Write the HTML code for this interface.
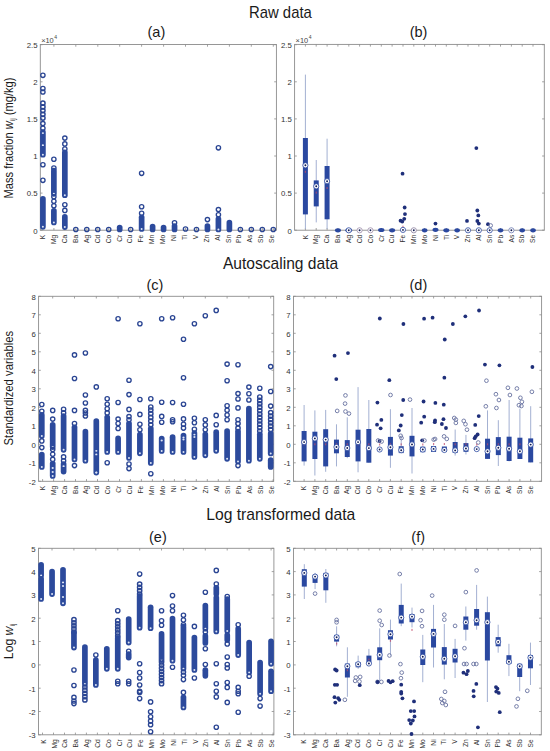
<!DOCTYPE html><html><head><meta charset="utf-8"><style>html,body{margin:0;padding:0;background:#fff;}svg{display:block;}text{font-family:"Liberation Sans",sans-serif;}.tk{font-size:7.8px;fill:#333;}.xl{font-size:6.6px;fill:#2e2e2e;}.ti{font-size:16.6px;fill:#1a1a1a;}.pl{font-size:14.5px;fill:#1a1a1a;}.yl{font-size:12.2px;fill:#1a1a1a;}</style></head><body>
<svg width="550" height="751" viewBox="0 0 550 751">
<rect width="550" height="751" fill="#fff"/>
<text class="ti" x="249" y="18.2" textLength="62.8" lengthAdjust="spacingAndGlyphs">Raw data</text>
<text class="ti" x="222.9" y="269.2" textLength="115.3" lengthAdjust="spacingAndGlyphs">Autoscaling data</text>
<text class="ti" x="206.2" y="520.2" textLength="149.1" lengthAdjust="spacingAndGlyphs">Log transformed data</text>
<text class="pl" x="156.4" y="37.0" text-anchor="middle">(a)</text>
<text class="pl" x="418.5" y="37.3" text-anchor="middle">(b)</text>
<text class="pl" x="155.0" y="290.2" text-anchor="middle">(c)</text>
<text class="pl" x="418.4" y="290.2" text-anchor="middle">(d)</text>
<text class="pl" x="157.9" y="541.7" text-anchor="middle">(e)</text>
<text class="pl" x="418.2" y="541.7" text-anchor="middle">(f)</text>
<text class="yl" text-anchor="middle" textLength="121" lengthAdjust="spacingAndGlyphs" transform="translate(12.8,138) rotate(-90)">Mass fraction <tspan font-style="italic">w</tspan><tspan font-size="7" dy="2.2">ij</tspan><tspan dy="-2.2"> (mg/kg)</tspan></text>
<text class="yl" text-anchor="middle" textLength="114.5" lengthAdjust="spacingAndGlyphs" transform="translate(12.9,388.2) rotate(-90)">Standardized variables</text>
<text class="yl" text-anchor="middle" transform="translate(12.6,641.3) rotate(-90)">Log <tspan font-style="italic">w</tspan><tspan font-size="7" dy="2.2">ij</tspan></text>
<text x="41.2" y="42.8" style="font-size:7.4px;fill:#444">×10<tspan dx="0.6" dy="-3.6" font-size="5px">4</tspan></text>
<text x="295.6" y="42.8" style="font-size:7.4px;fill:#444">×10<tspan dx="0.6" dy="-3.6" font-size="5px">4</tspan></text>
<rect x="40.3" y="44.5" width="236.1" height="185.7" fill="none" stroke="#8c8c8c" stroke-width="0.9"/>
<path d="M40.3,230.2h2.2M276.4,230.2h-2.2M40.3,193.1h2.2M276.4,193.1h-2.2M40.3,156.0h2.2M276.4,156.0h-2.2M40.3,118.9h2.2M276.4,118.9h-2.2M40.3,81.8h2.2M276.4,81.8h-2.2M40.3,44.7h2.2M276.4,44.7h-2.2M42.9,230.2v-2.2M53.9,230.2v-2.2M53.9,44.5v2.2M64.8,230.2v-2.2M75.8,230.2v-2.2M75.8,44.5v2.2M86.8,230.2v-2.2M97.8,230.2v-2.2M97.8,44.5v2.2M108.7,230.2v-2.2M119.7,230.2v-2.2M119.7,44.5v2.2M130.7,230.2v-2.2M141.6,230.2v-2.2M141.6,44.5v2.2M152.6,230.2v-2.2M163.6,230.2v-2.2M163.6,44.5v2.2M174.5,230.2v-2.2M185.5,230.2v-2.2M185.5,44.5v2.2M196.5,230.2v-2.2M207.5,230.2v-2.2M207.5,44.5v2.2M218.4,230.2v-2.2M229.4,230.2v-2.2M229.4,44.5v2.2M240.4,230.2v-2.2M251.3,230.2v-2.2M251.3,44.5v2.2M262.3,230.2v-2.2M273.3,230.2v-2.2M273.3,44.5v2.2" stroke="#8c8c8c" stroke-width="0.8" fill="none"/>
<text x="37.5" y="233.5" class="tk" text-anchor="end">0</text>
<text x="37.5" y="196.4" class="tk" text-anchor="end">0.5</text>
<text x="37.5" y="159.3" class="tk" text-anchor="end">1</text>
<text x="37.5" y="122.2" class="tk" text-anchor="end">1.5</text>
<text x="37.5" y="85.1" class="tk" text-anchor="end">2</text>
<text x="37.5" y="48.0" class="tk" text-anchor="end">2.5</text>
<text class="xl" text-anchor="end" transform="translate(45.2,234.8) rotate(-90)">K</text>
<text class="xl" text-anchor="end" transform="translate(56.1,234.8) rotate(-90)">Mg</text>
<text class="xl" text-anchor="end" transform="translate(67.0,234.8) rotate(-90)">Ca</text>
<text class="xl" text-anchor="end" transform="translate(77.9,234.8) rotate(-90)">Ba</text>
<text class="xl" text-anchor="end" transform="translate(88.8,234.8) rotate(-90)">Ag</text>
<text class="xl" text-anchor="end" transform="translate(99.7,234.8) rotate(-90)">Cd</text>
<text class="xl" text-anchor="end" transform="translate(110.6,234.8) rotate(-90)">Co</text>
<text class="xl" text-anchor="end" transform="translate(121.5,234.8) rotate(-90)">Cr</text>
<text class="xl" text-anchor="end" transform="translate(132.4,234.8) rotate(-90)">Cu</text>
<text class="xl" text-anchor="end" transform="translate(143.3,234.8) rotate(-90)">Fe</text>
<text class="xl" text-anchor="end" transform="translate(154.2,234.8) rotate(-90)">Mn</text>
<text class="xl" text-anchor="end" transform="translate(165.1,234.8) rotate(-90)">Mo</text>
<text class="xl" text-anchor="end" transform="translate(176.0,234.8) rotate(-90)">Ni</text>
<text class="xl" text-anchor="end" transform="translate(186.9,234.8) rotate(-90)">Ti</text>
<text class="xl" text-anchor="end" transform="translate(197.8,234.8) rotate(-90)">V</text>
<text class="xl" text-anchor="end" transform="translate(208.7,234.8) rotate(-90)">Zn</text>
<text class="xl" text-anchor="end" transform="translate(219.6,234.8) rotate(-90)">Al</text>
<text class="xl" text-anchor="end" transform="translate(230.5,234.8) rotate(-90)">Sn</text>
<text class="xl" text-anchor="end" transform="translate(241.4,234.8) rotate(-90)">Pb</text>
<text class="xl" text-anchor="end" transform="translate(252.3,234.8) rotate(-90)">As</text>
<text class="xl" text-anchor="end" transform="translate(263.2,234.8) rotate(-90)">Sb</text>
<text class="xl" text-anchor="end" transform="translate(274.1,234.8) rotate(-90)">Se</text>
<rect x="294.6" y="44.4" width="249.7" height="185.8" fill="none" stroke="#8c8c8c" stroke-width="0.9"/>
<path d="M294.6,230.2h2.2M544.3,230.2h-2.2M294.6,193.1h2.2M544.3,193.1h-2.2M294.6,156.0h2.2M544.3,156.0h-2.2M294.6,118.9h2.2M544.3,118.9h-2.2M294.6,81.8h2.2M544.3,81.8h-2.2M294.6,44.7h2.2M544.3,44.7h-2.2M305.4,230.2v-2.2M305.4,44.4v2.2M316.2,230.2v-2.2M316.2,44.4v2.2M327.1,230.2v-2.2M327.1,44.4v2.2M337.9,230.2v-2.2M337.9,44.4v2.2M348.8,230.2v-2.2M348.8,44.4v2.2M359.6,230.2v-2.2M359.6,44.4v2.2M370.4,230.2v-2.2M370.4,44.4v2.2M381.3,230.2v-2.2M381.3,44.4v2.2M392.1,230.2v-2.2M392.1,44.4v2.2M403.0,230.2v-2.2M403.0,44.4v2.2M413.8,230.2v-2.2M413.8,44.4v2.2M424.6,230.2v-2.2M424.6,44.4v2.2M435.5,230.2v-2.2M435.5,44.4v2.2M446.3,230.2v-2.2M446.3,44.4v2.2M457.2,230.2v-2.2M457.2,44.4v2.2M468.0,230.2v-2.2M468.0,44.4v2.2M478.8,230.2v-2.2M478.8,44.4v2.2M489.7,230.2v-2.2M489.7,44.4v2.2M500.5,230.2v-2.2M500.5,44.4v2.2M511.4,230.2v-2.2M511.4,44.4v2.2M522.2,230.2v-2.2M522.2,44.4v2.2M533.0,230.2v-2.2M533.0,44.4v2.2" stroke="#8c8c8c" stroke-width="0.8" fill="none"/>
<text x="291.8" y="233.5" class="tk" text-anchor="end">0</text>
<text x="291.8" y="196.4" class="tk" text-anchor="end">0.5</text>
<text x="291.8" y="159.3" class="tk" text-anchor="end">1</text>
<text x="291.8" y="122.2" class="tk" text-anchor="end">1.5</text>
<text x="291.8" y="85.1" class="tk" text-anchor="end">2</text>
<text x="291.8" y="48.0" class="tk" text-anchor="end">2.5</text>
<text class="xl" text-anchor="end" transform="translate(307.6,234.8) rotate(-90)">K</text>
<text class="xl" text-anchor="end" transform="translate(318.4,234.8) rotate(-90)">Mg</text>
<text class="xl" text-anchor="end" transform="translate(329.3,234.8) rotate(-90)">Ca</text>
<text class="xl" text-anchor="end" transform="translate(340.1,234.8) rotate(-90)">Ba</text>
<text class="xl" text-anchor="end" transform="translate(351.0,234.8) rotate(-90)">Ag</text>
<text class="xl" text-anchor="end" transform="translate(361.8,234.8) rotate(-90)">Cd</text>
<text class="xl" text-anchor="end" transform="translate(372.6,234.8) rotate(-90)">Co</text>
<text class="xl" text-anchor="end" transform="translate(383.5,234.8) rotate(-90)">Cr</text>
<text class="xl" text-anchor="end" transform="translate(394.3,234.8) rotate(-90)">Cu</text>
<text class="xl" text-anchor="end" transform="translate(405.2,234.8) rotate(-90)">Fe</text>
<text class="xl" text-anchor="end" transform="translate(416.0,234.8) rotate(-90)">Mn</text>
<text class="xl" text-anchor="end" transform="translate(426.8,234.8) rotate(-90)">Mo</text>
<text class="xl" text-anchor="end" transform="translate(437.7,234.8) rotate(-90)">Ni</text>
<text class="xl" text-anchor="end" transform="translate(448.5,234.8) rotate(-90)">Ti</text>
<text class="xl" text-anchor="end" transform="translate(459.4,234.8) rotate(-90)">V</text>
<text class="xl" text-anchor="end" transform="translate(470.2,234.8) rotate(-90)">Zn</text>
<text class="xl" text-anchor="end" transform="translate(481.0,234.8) rotate(-90)">Al</text>
<text class="xl" text-anchor="end" transform="translate(491.9,234.8) rotate(-90)">Sn</text>
<text class="xl" text-anchor="end" transform="translate(502.7,234.8) rotate(-90)">Pb</text>
<text class="xl" text-anchor="end" transform="translate(513.6,234.8) rotate(-90)">As</text>
<text class="xl" text-anchor="end" transform="translate(524.4,234.8) rotate(-90)">Sb</text>
<text class="xl" text-anchor="end" transform="translate(535.2,234.8) rotate(-90)">Se</text>
<rect x="38.6" y="296.3" width="235.1" height="185.0" fill="none" stroke="#8c8c8c" stroke-width="0.9"/>
<path d="M38.6,481.3h2.2M273.7,481.3h-2.2M38.6,462.8h2.2M273.7,462.8h-2.2M38.6,444.3h2.2M273.7,444.3h-2.2M38.6,425.8h2.2M273.7,425.8h-2.2M38.6,407.3h2.2M273.7,407.3h-2.2M38.6,388.8h2.2M273.7,388.8h-2.2M38.6,370.3h2.2M273.7,370.3h-2.2M38.6,351.8h2.2M273.7,351.8h-2.2M38.6,333.3h2.2M273.7,333.3h-2.2M38.6,314.8h2.2M273.7,314.8h-2.2M38.6,296.3h2.2M273.7,296.3h-2.2M42.6,481.3v-2.2M53.6,481.3v-2.2M52.7,296.3v2.2M64.6,481.3v-2.2M75.5,481.3v-2.2M74.5,296.3v2.2M86.5,481.3v-2.2M97.5,481.3v-2.2M96.3,296.3v2.2M108.5,481.3v-2.2M119.5,481.3v-2.2M118.1,296.3v2.2M130.4,481.3v-2.2M141.4,481.3v-2.2M139.9,296.3v2.2M152.4,481.3v-2.2M163.4,481.3v-2.2M161.7,296.3v2.2M174.4,481.3v-2.2M185.3,481.3v-2.2M183.5,296.3v2.2M196.3,481.3v-2.2M207.3,481.3v-2.2M205.3,296.3v2.2M218.3,481.3v-2.2M229.3,481.3v-2.2M227.1,296.3v2.2M240.2,481.3v-2.2M251.2,481.3v-2.2M248.9,296.3v2.2M262.2,481.3v-2.2M273.2,481.3v-2.2M270.7,296.3v2.2" stroke="#8c8c8c" stroke-width="0.8" fill="none"/>
<text x="35.8" y="484.6" class="tk" text-anchor="end">-2</text>
<text x="35.8" y="466.1" class="tk" text-anchor="end">-1</text>
<text x="35.8" y="447.6" class="tk" text-anchor="end">0</text>
<text x="35.8" y="429.1" class="tk" text-anchor="end">1</text>
<text x="35.8" y="410.6" class="tk" text-anchor="end">2</text>
<text x="35.8" y="392.1" class="tk" text-anchor="end">3</text>
<text x="35.8" y="373.6" class="tk" text-anchor="end">4</text>
<text x="35.8" y="355.1" class="tk" text-anchor="end">5</text>
<text x="35.8" y="336.6" class="tk" text-anchor="end">6</text>
<text x="35.8" y="318.1" class="tk" text-anchor="end">7</text>
<text x="35.8" y="299.6" class="tk" text-anchor="end">8</text>
<text class="xl" text-anchor="end" transform="translate(44.9,485.9) rotate(-90)">K</text>
<text class="xl" text-anchor="end" transform="translate(55.8,485.9) rotate(-90)">Mg</text>
<text class="xl" text-anchor="end" transform="translate(66.7,485.9) rotate(-90)">Ca</text>
<text class="xl" text-anchor="end" transform="translate(77.6,485.9) rotate(-90)">Ba</text>
<text class="xl" text-anchor="end" transform="translate(88.4,485.9) rotate(-90)">Ag</text>
<text class="xl" text-anchor="end" transform="translate(99.3,485.9) rotate(-90)">Cd</text>
<text class="xl" text-anchor="end" transform="translate(110.2,485.9) rotate(-90)">Co</text>
<text class="xl" text-anchor="end" transform="translate(121.1,485.9) rotate(-90)">Cr</text>
<text class="xl" text-anchor="end" transform="translate(132.0,485.9) rotate(-90)">Cu</text>
<text class="xl" text-anchor="end" transform="translate(142.9,485.9) rotate(-90)">Fe</text>
<text class="xl" text-anchor="end" transform="translate(153.8,485.9) rotate(-90)">Mn</text>
<text class="xl" text-anchor="end" transform="translate(164.6,485.9) rotate(-90)">Mo</text>
<text class="xl" text-anchor="end" transform="translate(175.5,485.9) rotate(-90)">Ni</text>
<text class="xl" text-anchor="end" transform="translate(186.4,485.9) rotate(-90)">Ti</text>
<text class="xl" text-anchor="end" transform="translate(197.3,485.9) rotate(-90)">V</text>
<text class="xl" text-anchor="end" transform="translate(208.2,485.9) rotate(-90)">Zn</text>
<text class="xl" text-anchor="end" transform="translate(219.1,485.9) rotate(-90)">Al</text>
<text class="xl" text-anchor="end" transform="translate(230.0,485.9) rotate(-90)">Sn</text>
<text class="xl" text-anchor="end" transform="translate(240.8,485.9) rotate(-90)">Pb</text>
<text class="xl" text-anchor="end" transform="translate(251.7,485.9) rotate(-90)">As</text>
<text class="xl" text-anchor="end" transform="translate(262.6,485.9) rotate(-90)">Sb</text>
<text class="xl" text-anchor="end" transform="translate(273.5,485.9) rotate(-90)">Se</text>
<rect x="293.5" y="296.3" width="248.1" height="185.0" fill="none" stroke="#8c8c8c" stroke-width="0.9"/>
<path d="M293.5,481.3h2.2M541.6,481.3h-2.2M293.5,462.8h2.2M541.6,462.8h-2.2M293.5,444.3h2.2M541.6,444.3h-2.2M293.5,425.8h2.2M541.6,425.8h-2.2M293.5,407.3h2.2M541.6,407.3h-2.2M293.5,388.8h2.2M541.6,388.8h-2.2M293.5,370.3h2.2M541.6,370.3h-2.2M293.5,351.8h2.2M541.6,351.8h-2.2M293.5,333.3h2.2M541.6,333.3h-2.2M293.5,314.8h2.2M541.6,314.8h-2.2M293.5,296.3h2.2M541.6,296.3h-2.2M304.1,481.3v-2.2M304.1,296.3v2.2M314.9,481.3v-2.2M314.9,296.3v2.2M325.7,481.3v-2.2M325.7,296.3v2.2M336.5,481.3v-2.2M336.5,296.3v2.2M347.3,481.3v-2.2M347.3,296.3v2.2M358.1,481.3v-2.2M358.1,296.3v2.2M368.8,481.3v-2.2M368.8,296.3v2.2M379.6,481.3v-2.2M379.6,296.3v2.2M390.4,481.3v-2.2M390.4,296.3v2.2M401.2,481.3v-2.2M401.2,296.3v2.2M412.0,481.3v-2.2M412.0,296.3v2.2M422.8,481.3v-2.2M422.8,296.3v2.2M433.6,481.3v-2.2M433.6,296.3v2.2M444.4,481.3v-2.2M444.4,296.3v2.2M455.2,481.3v-2.2M455.2,296.3v2.2M466.0,481.3v-2.2M466.0,296.3v2.2M476.7,481.3v-2.2M476.7,296.3v2.2M487.5,481.3v-2.2M487.5,296.3v2.2M498.3,481.3v-2.2M498.3,296.3v2.2M509.1,481.3v-2.2M509.1,296.3v2.2M519.9,481.3v-2.2M519.9,296.3v2.2M530.7,481.3v-2.2M530.7,296.3v2.2" stroke="#8c8c8c" stroke-width="0.8" fill="none"/>
<text x="290.7" y="484.6" class="tk" text-anchor="end">-2</text>
<text x="290.7" y="466.1" class="tk" text-anchor="end">-1</text>
<text x="290.7" y="447.6" class="tk" text-anchor="end">0</text>
<text x="290.7" y="429.1" class="tk" text-anchor="end">1</text>
<text x="290.7" y="410.6" class="tk" text-anchor="end">2</text>
<text x="290.7" y="392.1" class="tk" text-anchor="end">3</text>
<text x="290.7" y="373.6" class="tk" text-anchor="end">4</text>
<text x="290.7" y="355.1" class="tk" text-anchor="end">5</text>
<text x="290.7" y="336.6" class="tk" text-anchor="end">6</text>
<text x="290.7" y="318.1" class="tk" text-anchor="end">7</text>
<text x="290.7" y="299.6" class="tk" text-anchor="end">8</text>
<text class="xl" text-anchor="end" transform="translate(306.2,485.9) rotate(-90)">K</text>
<text class="xl" text-anchor="end" transform="translate(317.0,485.9) rotate(-90)">Mg</text>
<text class="xl" text-anchor="end" transform="translate(327.8,485.9) rotate(-90)">Ca</text>
<text class="xl" text-anchor="end" transform="translate(338.6,485.9) rotate(-90)">Ba</text>
<text class="xl" text-anchor="end" transform="translate(349.4,485.9) rotate(-90)">Ag</text>
<text class="xl" text-anchor="end" transform="translate(360.2,485.9) rotate(-90)">Cd</text>
<text class="xl" text-anchor="end" transform="translate(370.9,485.9) rotate(-90)">Co</text>
<text class="xl" text-anchor="end" transform="translate(381.7,485.9) rotate(-90)">Cr</text>
<text class="xl" text-anchor="end" transform="translate(392.5,485.9) rotate(-90)">Cu</text>
<text class="xl" text-anchor="end" transform="translate(403.3,485.9) rotate(-90)">Fe</text>
<text class="xl" text-anchor="end" transform="translate(414.1,485.9) rotate(-90)">Mn</text>
<text class="xl" text-anchor="end" transform="translate(424.9,485.9) rotate(-90)">Mo</text>
<text class="xl" text-anchor="end" transform="translate(435.7,485.9) rotate(-90)">Ni</text>
<text class="xl" text-anchor="end" transform="translate(446.5,485.9) rotate(-90)">Ti</text>
<text class="xl" text-anchor="end" transform="translate(457.3,485.9) rotate(-90)">V</text>
<text class="xl" text-anchor="end" transform="translate(468.1,485.9) rotate(-90)">Zn</text>
<text class="xl" text-anchor="end" transform="translate(478.8,485.9) rotate(-90)">Al</text>
<text class="xl" text-anchor="end" transform="translate(489.6,485.9) rotate(-90)">Sn</text>
<text class="xl" text-anchor="end" transform="translate(500.4,485.9) rotate(-90)">Pb</text>
<text class="xl" text-anchor="end" transform="translate(511.2,485.9) rotate(-90)">As</text>
<text class="xl" text-anchor="end" transform="translate(522.0,485.9) rotate(-90)">Sb</text>
<text class="xl" text-anchor="end" transform="translate(532.8,485.9) rotate(-90)">Se</text>
<rect x="38.5" y="548.3" width="235.4" height="186.5" fill="none" stroke="#8c8c8c" stroke-width="0.9"/>
<path d="M38.5,734.8h2.2M273.9,734.8h-2.2M38.5,711.5h2.2M273.9,711.5h-2.2M38.5,688.2h2.2M273.9,688.2h-2.2M38.5,664.9h2.2M273.9,664.9h-2.2M38.5,641.5h2.2M273.9,641.5h-2.2M38.5,618.2h2.2M273.9,618.2h-2.2M38.5,594.9h2.2M273.9,594.9h-2.2M38.5,571.6h2.2M273.9,571.6h-2.2M38.5,548.3h2.2M273.9,548.3h-2.2M42.5,734.8v-2.2M53.5,734.8v-2.2M52.0,548.3v2.2M64.5,734.8v-2.2M75.4,734.8v-2.2M73.9,548.3v2.2M86.4,734.8v-2.2M97.4,734.8v-2.2M95.8,548.3v2.2M108.4,734.8v-2.2M119.4,734.8v-2.2M117.8,548.3v2.2M130.3,734.8v-2.2M141.3,734.8v-2.2M139.7,548.3v2.2M152.3,734.8v-2.2M163.3,734.8v-2.2M161.5,548.3v2.2M174.3,734.8v-2.2M185.2,734.8v-2.2M183.4,548.3v2.2M196.2,734.8v-2.2M207.2,734.8v-2.2M205.3,548.3v2.2M218.2,734.8v-2.2M229.2,734.8v-2.2M227.2,548.3v2.2M240.1,734.8v-2.2M251.1,734.8v-2.2M249.1,548.3v2.2M262.1,734.8v-2.2M273.1,734.8v-2.2M271.1,548.3v2.2" stroke="#8c8c8c" stroke-width="0.8" fill="none"/>
<text x="35.7" y="738.1" class="tk" text-anchor="end">-3</text>
<text x="35.7" y="714.8" class="tk" text-anchor="end">-2</text>
<text x="35.7" y="691.5" class="tk" text-anchor="end">-1</text>
<text x="35.7" y="668.2" class="tk" text-anchor="end">0</text>
<text x="35.7" y="644.8" class="tk" text-anchor="end">1</text>
<text x="35.7" y="621.5" class="tk" text-anchor="end">2</text>
<text x="35.7" y="598.2" class="tk" text-anchor="end">3</text>
<text x="35.7" y="574.9" class="tk" text-anchor="end">4</text>
<text x="35.7" y="551.6" class="tk" text-anchor="end">5</text>
<text class="xl" text-anchor="end" transform="translate(45.6,739.4) rotate(-90)">K</text>
<text class="xl" text-anchor="end" transform="translate(56.5,739.4) rotate(-90)">Mg</text>
<text class="xl" text-anchor="end" transform="translate(67.3,739.4) rotate(-90)">Ca</text>
<text class="xl" text-anchor="end" transform="translate(78.1,739.4) rotate(-90)">Ba</text>
<text class="xl" text-anchor="end" transform="translate(89.0,739.4) rotate(-90)">Ag</text>
<text class="xl" text-anchor="end" transform="translate(99.8,739.4) rotate(-90)">Cd</text>
<text class="xl" text-anchor="end" transform="translate(110.7,739.4) rotate(-90)">Co</text>
<text class="xl" text-anchor="end" transform="translate(121.5,739.4) rotate(-90)">Cr</text>
<text class="xl" text-anchor="end" transform="translate(132.4,739.4) rotate(-90)">Cu</text>
<text class="xl" text-anchor="end" transform="translate(143.2,739.4) rotate(-90)">Fe</text>
<text class="xl" text-anchor="end" transform="translate(154.1,739.4) rotate(-90)">Mn</text>
<text class="xl" text-anchor="end" transform="translate(164.9,739.4) rotate(-90)">Mo</text>
<text class="xl" text-anchor="end" transform="translate(175.8,739.4) rotate(-90)">Ni</text>
<text class="xl" text-anchor="end" transform="translate(186.6,739.4) rotate(-90)">Ti</text>
<text class="xl" text-anchor="end" transform="translate(197.5,739.4) rotate(-90)">V</text>
<text class="xl" text-anchor="end" transform="translate(208.3,739.4) rotate(-90)">Zn</text>
<text class="xl" text-anchor="end" transform="translate(219.2,739.4) rotate(-90)">Al</text>
<text class="xl" text-anchor="end" transform="translate(230.0,739.4) rotate(-90)">Sn</text>
<text class="xl" text-anchor="end" transform="translate(240.9,739.4) rotate(-90)">Pb</text>
<text class="xl" text-anchor="end" transform="translate(251.8,739.4) rotate(-90)">As</text>
<text class="xl" text-anchor="end" transform="translate(262.6,739.4) rotate(-90)">Sb</text>
<text class="xl" text-anchor="end" transform="translate(273.5,739.4) rotate(-90)">Se</text>
<rect x="293.5" y="548.3" width="247.8" height="186.5" fill="none" stroke="#8c8c8c" stroke-width="0.9"/>
<path d="M293.5,734.8h2.2M541.3,734.8h-2.2M293.5,711.5h2.2M541.3,711.5h-2.2M293.5,688.2h2.2M541.3,688.2h-2.2M293.5,664.9h2.2M541.3,664.9h-2.2M293.5,641.5h2.2M541.3,641.5h-2.2M293.5,618.2h2.2M541.3,618.2h-2.2M293.5,594.9h2.2M541.3,594.9h-2.2M293.5,571.6h2.2M541.3,571.6h-2.2M293.5,548.3h2.2M541.3,548.3h-2.2M304.3,734.8v-2.2M304.3,548.3v2.2M315.1,734.8v-2.2M315.1,548.3v2.2M325.8,734.8v-2.2M325.8,548.3v2.2M336.6,734.8v-2.2M336.6,548.3v2.2M347.4,734.8v-2.2M347.4,548.3v2.2M358.1,734.8v-2.2M358.1,548.3v2.2M368.9,734.8v-2.2M368.9,548.3v2.2M379.7,734.8v-2.2M379.7,548.3v2.2M390.5,734.8v-2.2M390.5,548.3v2.2M401.2,734.8v-2.2M401.2,548.3v2.2M412.0,734.8v-2.2M412.0,548.3v2.2M422.8,734.8v-2.2M422.8,548.3v2.2M433.5,734.8v-2.2M433.5,548.3v2.2M444.3,734.8v-2.2M444.3,548.3v2.2M455.1,734.8v-2.2M455.1,548.3v2.2M465.9,734.8v-2.2M465.9,548.3v2.2M476.6,734.8v-2.2M476.6,548.3v2.2M487.4,734.8v-2.2M487.4,548.3v2.2M498.2,734.8v-2.2M498.2,548.3v2.2M508.9,734.8v-2.2M508.9,548.3v2.2M519.7,734.8v-2.2M519.7,548.3v2.2M530.5,734.8v-2.2M530.5,548.3v2.2" stroke="#8c8c8c" stroke-width="0.8" fill="none"/>
<text x="290.7" y="738.1" class="tk" text-anchor="end">-3</text>
<text x="290.7" y="714.8" class="tk" text-anchor="end">-2</text>
<text x="290.7" y="691.5" class="tk" text-anchor="end">-1</text>
<text x="290.7" y="668.2" class="tk" text-anchor="end">0</text>
<text x="290.7" y="644.8" class="tk" text-anchor="end">1</text>
<text x="290.7" y="621.5" class="tk" text-anchor="end">2</text>
<text x="290.7" y="598.2" class="tk" text-anchor="end">3</text>
<text x="290.7" y="574.9" class="tk" text-anchor="end">4</text>
<text x="290.7" y="551.6" class="tk" text-anchor="end">5</text>
<text class="xl" text-anchor="end" transform="translate(306.4,739.4) rotate(-90)">K</text>
<text class="xl" text-anchor="end" transform="translate(317.2,739.4) rotate(-90)">Mg</text>
<text class="xl" text-anchor="end" transform="translate(327.9,739.4) rotate(-90)">Ca</text>
<text class="xl" text-anchor="end" transform="translate(338.7,739.4) rotate(-90)">Ba</text>
<text class="xl" text-anchor="end" transform="translate(349.5,739.4) rotate(-90)">Ag</text>
<text class="xl" text-anchor="end" transform="translate(360.2,739.4) rotate(-90)">Cd</text>
<text class="xl" text-anchor="end" transform="translate(371.0,739.4) rotate(-90)">Co</text>
<text class="xl" text-anchor="end" transform="translate(381.8,739.4) rotate(-90)">Cr</text>
<text class="xl" text-anchor="end" transform="translate(392.6,739.4) rotate(-90)">Cu</text>
<text class="xl" text-anchor="end" transform="translate(403.3,739.4) rotate(-90)">Fe</text>
<text class="xl" text-anchor="end" transform="translate(414.1,739.4) rotate(-90)">Mn</text>
<text class="xl" text-anchor="end" transform="translate(424.9,739.4) rotate(-90)">Mo</text>
<text class="xl" text-anchor="end" transform="translate(435.6,739.4) rotate(-90)">Ni</text>
<text class="xl" text-anchor="end" transform="translate(446.4,739.4) rotate(-90)">Ti</text>
<text class="xl" text-anchor="end" transform="translate(457.2,739.4) rotate(-90)">V</text>
<text class="xl" text-anchor="end" transform="translate(468.0,739.4) rotate(-90)">Zn</text>
<text class="xl" text-anchor="end" transform="translate(478.7,739.4) rotate(-90)">Al</text>
<text class="xl" text-anchor="end" transform="translate(489.5,739.4) rotate(-90)">Sn</text>
<text class="xl" text-anchor="end" transform="translate(500.3,739.4) rotate(-90)">Pb</text>
<text class="xl" text-anchor="end" transform="translate(511.0,739.4) rotate(-90)">As</text>
<text class="xl" text-anchor="end" transform="translate(521.8,739.4) rotate(-90)">Sb</text>
<text class="xl" text-anchor="end" transform="translate(532.6,739.4) rotate(-90)">Se</text>
<circle cx="42.90" cy="75.30" r="2.15" fill="none" stroke="#2a4593" stroke-width="1.35"/>
<circle cx="42.90" cy="88.50" r="2.15" fill="none" stroke="#2a4593" stroke-width="1.35"/>
<circle cx="42.90" cy="92.00" r="2.15" fill="none" stroke="#2a4593" stroke-width="1.35"/>
<circle cx="42.90" cy="103.20" r="2.15" fill="none" stroke="#2a4593" stroke-width="1.45"/>
<circle cx="42.90" cy="106.90" r="2.15" fill="none" stroke="#2a4593" stroke-width="1.45"/>
<circle cx="42.90" cy="110.60" r="2.15" fill="none" stroke="#2a4593" stroke-width="1.45"/>
<circle cx="42.90" cy="114.30" r="2.15" fill="none" stroke="#2a4593" stroke-width="1.45"/>
<circle cx="42.90" cy="118.00" r="2.15" fill="none" stroke="#2a4593" stroke-width="1.45"/>
<circle cx="42.90" cy="123.60" r="2.15" fill="none" stroke="#2a4593" stroke-width="1.35"/>
<circle cx="42.90" cy="128.30" r="2.15" fill="none" stroke="#2a4593" stroke-width="1.35"/>
<rect x="40.05" y="129.35" width="5.70" height="28.20" rx="2.85" fill="#2c4a9c"/>
<circle cx="42.90" cy="154.70" r="1.0" fill="#dfe6f6"/>
<ellipse cx="42.90" cy="133.10" rx="1.1" ry="0.9" fill="#dde4f5"/>
<ellipse cx="42.90" cy="145.20" rx="1.1" ry="0.9" fill="#dde4f5"/>
<circle cx="42.90" cy="164.70" r="2.15" fill="none" stroke="#2a4593" stroke-width="1.35"/>
<circle cx="42.90" cy="180.30" r="2.15" fill="none" stroke="#2a4593" stroke-width="1.35"/>
<rect x="40.05" y="196.05" width="5.70" height="33.50" rx="2.85" fill="#2c4a9c"/>
<circle cx="42.90" cy="226.70" r="1.0" fill="#dfe6f6"/>
<circle cx="53.87" cy="159.20" r="2.15" fill="none" stroke="#2a4593" stroke-width="1.35"/>
<circle cx="53.87" cy="168.00" r="2.15" fill="none" stroke="#2a4593" stroke-width="1.35"/>
<rect x="51.02" y="167.85" width="5.70" height="28.80" rx="2.85" fill="#2c4a9c"/>
<circle cx="53.87" cy="193.80" r="1.0" fill="#dfe6f6"/>
<circle cx="53.87" cy="196.80" r="2.15" fill="none" stroke="#2a4593" stroke-width="1.35"/>
<circle cx="53.87" cy="201.30" r="2.15" fill="none" stroke="#2a4593" stroke-width="1.35"/>
<circle cx="53.87" cy="205.80" r="2.15" fill="none" stroke="#2a4593" stroke-width="1.35"/>
<rect x="51.02" y="207.95" width="5.70" height="17.30" rx="2.85" fill="#2c4a9c"/>
<circle cx="53.87" cy="222.40" r="1.0" fill="#dfe6f6"/>
<circle cx="64.84" cy="138.10" r="2.15" fill="none" stroke="#2a4593" stroke-width="1.35"/>
<circle cx="64.84" cy="143.90" r="2.15" fill="none" stroke="#2a4593" stroke-width="1.35"/>
<circle cx="64.84" cy="149.00" r="2.15" fill="none" stroke="#2a4593" stroke-width="1.35"/>
<rect x="61.99" y="149.55" width="5.70" height="48.50" rx="2.85" fill="#2c4a9c"/>
<circle cx="64.84" cy="195.20" r="1.0" fill="#dfe6f6"/>
<circle cx="64.84" cy="204.70" r="2.15" fill="none" stroke="#2a4593" stroke-width="1.35"/>
<circle cx="64.84" cy="210.40" r="2.15" fill="none" stroke="#2a4593" stroke-width="1.35"/>
<rect x="61.99" y="214.05" width="5.70" height="15.90" rx="2.85" fill="#2c4a9c"/>
<circle cx="64.84" cy="227.10" r="1.0" fill="#dfe6f6"/>
<circle cx="75.81" cy="229.50" r="2.15" fill="none" stroke="#2a4593" stroke-width="1.35"/>
<circle cx="86.78" cy="229.50" r="2.15" fill="none" stroke="#2a4593" stroke-width="1.35"/>
<circle cx="97.75" cy="229.50" r="2.15" fill="none" stroke="#2a4593" stroke-width="1.35"/>
<circle cx="108.72" cy="229.50" r="2.15" fill="none" stroke="#2a4593" stroke-width="1.35"/>
<rect x="116.84" y="224.65" width="5.70" height="7.70" rx="2.85" fill="#2c4a9c"/>
<circle cx="130.66" cy="229.50" r="2.15" fill="none" stroke="#2a4593" stroke-width="1.35"/>
<circle cx="141.63" cy="173.30" r="2.15" fill="none" stroke="#2a4593" stroke-width="1.35"/>
<circle cx="141.63" cy="206.70" r="2.15" fill="none" stroke="#2a4593" stroke-width="1.35"/>
<circle cx="141.63" cy="213.30" r="2.15" fill="none" stroke="#2a4593" stroke-width="1.35"/>
<rect x="138.78" y="214.45" width="5.70" height="17.40" rx="2.85" fill="#2c4a9c"/>
<circle cx="141.63" cy="229.00" r="1.0" fill="#dfe6f6"/>
<rect x="149.75" y="223.65" width="5.70" height="8.70" rx="2.85" fill="#2c4a9c"/>
<rect x="160.72" y="224.65" width="5.70" height="7.70" rx="2.85" fill="#2c4a9c"/>
<circle cx="174.54" cy="222.70" r="2.15" fill="none" stroke="#2a4593" stroke-width="1.35"/>
<rect x="171.69" y="223.15" width="5.70" height="9.20" rx="2.85" fill="#2c4a9c"/>
<circle cx="185.51" cy="229.00" r="2.15" fill="none" stroke="#2a4593" stroke-width="1.35"/>
<circle cx="196.48" cy="229.50" r="2.15" fill="none" stroke="#2a4593" stroke-width="1.35"/>
<circle cx="207.45" cy="219.60" r="2.15" fill="none" stroke="#2a4593" stroke-width="1.35"/>
<rect x="204.60" y="223.15" width="5.70" height="9.20" rx="2.85" fill="#2c4a9c"/>
<circle cx="218.42" cy="147.80" r="2.15" fill="none" stroke="#2a4593" stroke-width="1.35"/>
<circle cx="218.42" cy="209.60" r="2.15" fill="none" stroke="#2a4593" stroke-width="1.35"/>
<circle cx="218.42" cy="214.70" r="2.15" fill="none" stroke="#2a4593" stroke-width="1.35"/>
<rect x="215.57" y="216.15" width="5.70" height="16.20" rx="2.85" fill="#2c4a9c"/>
<circle cx="218.42" cy="229.50" r="1.0" fill="#dfe6f6"/>
<rect x="226.54" y="219.85" width="5.70" height="12.50" rx="2.85" fill="#2c4a9c"/>
<circle cx="240.36" cy="229.50" r="2.15" fill="none" stroke="#2a4593" stroke-width="1.35"/>
<circle cx="251.33" cy="229.50" r="2.15" fill="none" stroke="#2a4593" stroke-width="1.35"/>
<circle cx="262.30" cy="229.50" r="2.15" fill="none" stroke="#2a4593" stroke-width="1.35"/>
<circle cx="273.27" cy="229.50" r="2.15" fill="none" stroke="#2a4593" stroke-width="1.35"/>
<line x1="305.40" y1="74.6" x2="305.40" y2="229" stroke="#a3b0d2" stroke-width="1"/>
<rect x="302.90" y="138" width="5" height="76.4" fill="#2a48a0"/>
<rect x="304.80" y="170.8" width="1.2" height="2" fill="#c04a6a" fill-opacity="0.75"/>
<circle cx="305.40" cy="165.3" r="2.6" fill="#fff" stroke="#2a48a0" stroke-width="0.8"/>
<circle cx="305.40" cy="165.3" r="0.95" fill="#121c55"/>
<line x1="316.24" y1="160" x2="316.24" y2="222.4" stroke="#a3b0d2" stroke-width="1"/>
<rect x="313.74" y="180.4" width="5" height="26.0" fill="#2a48a0"/>
<rect x="315.64" y="191.6" width="1.2" height="2" fill="#c04a6a" fill-opacity="0.75"/>
<circle cx="316.24" cy="186.3" r="2.6" fill="#fff" stroke="#2a48a0" stroke-width="0.8"/>
<circle cx="316.24" cy="186.3" r="0.95" fill="#121c55"/>
<line x1="327.08" y1="138.7" x2="327.08" y2="229" stroke="#a3b0d2" stroke-width="1"/>
<rect x="324.58" y="166" width="5" height="53.3" fill="#2a48a0"/>
<rect x="326.48" y="187.0" width="1.2" height="2" fill="#c04a6a" fill-opacity="0.75"/>
<circle cx="327.08" cy="181.2" r="2.6" fill="#fff" stroke="#2a48a0" stroke-width="0.8"/>
<circle cx="327.08" cy="181.2" r="0.95" fill="#121c55"/>
<ellipse cx="337.92" cy="230.30" rx="3.0" ry="2.1" fill="#2a48a0"/>
<ellipse cx="348.76" cy="230.30" rx="3.4" ry="2.1" fill="#2a48a0"/>
<circle cx="348.76" cy="230.3" r="2.6" fill="#fff" stroke="#2a48a0" stroke-width="0.8"/>
<circle cx="348.76" cy="230.3" r="0.95" fill="#121c55"/>
<circle cx="359.60" cy="230.3" r="2.6" fill="#fff" stroke="#9a8aa8" stroke-width="0.8"/>
<circle cx="359.60" cy="230.3" r="0.95" fill="#121c55"/>
<circle cx="370.44" cy="230.3" r="2.6" fill="#fff" stroke="#9a8aa8" stroke-width="0.8"/>
<circle cx="370.44" cy="230.3" r="0.95" fill="#121c55"/>
<ellipse cx="381.28" cy="230.00" rx="3.2" ry="2.1" fill="#2a48a0"/>
<ellipse cx="392.12" cy="230.30" rx="3.0" ry="2.1" fill="#2a48a0"/>
<circle cx="402.56" cy="173.70" r="1.9" fill="#1f2f7a"/>
<circle cx="404.66" cy="207.50" r="1.9" fill="#1f2f7a"/>
<circle cx="404.96" cy="214.10" r="1.9" fill="#1f2f7a"/>
<circle cx="404.26" cy="218.80" r="1.9" fill="#1f2f7a"/>
<circle cx="400.56" cy="220.70" r="1.9" fill="#1f2f7a"/>
<circle cx="402.26" cy="221.50" r="1.9" fill="#1f2f7a"/>
<rect x="402.36" y="225.7" width="1.2" height="2" fill="#c04a6a" fill-opacity="0.75"/>
<circle cx="402.96" cy="229.9" r="2.6" fill="#fff" stroke="#2a48a0" stroke-width="0.8"/>
<circle cx="402.96" cy="229.9" r="0.95" fill="#121c55"/>
<circle cx="413.80" cy="230.3" r="2.6" fill="#fff" stroke="#8a80a0" stroke-width="0.8"/>
<circle cx="413.80" cy="230.3" r="0.95" fill="#121c55"/>
<ellipse cx="424.64" cy="230.30" rx="2.8" ry="2.1" fill="#2a48a0"/>
<circle cx="435.48" cy="223.60" r="1.9" fill="#1f2f7a"/>
<ellipse cx="435.48" cy="229.80" rx="3.0" ry="2.1" fill="#2a48a0"/>
<ellipse cx="446.32" cy="230.30" rx="3.0" ry="2.1" fill="#2a48a0"/>
<ellipse cx="457.16" cy="230.30" rx="2.8" ry="2.1" fill="#2a48a0"/>
<circle cx="467.00" cy="220.90" r="1.9" fill="#1f2f7a"/>
<circle cx="468.00" cy="230.3" r="2.6" fill="#fff" stroke="#2a48a0" stroke-width="0.8"/>
<circle cx="468.00" cy="230.3" r="0.95" fill="#121c55"/>
<circle cx="476.34" cy="148.10" r="1.9" fill="#1f2f7a"/>
<circle cx="477.34" cy="210.50" r="1.9" fill="#1f2f7a"/>
<circle cx="478.34" cy="215.40" r="1.9" fill="#1f2f7a"/>
<circle cx="477.34" cy="221.00" r="1.9" fill="#1f2f7a"/>
<circle cx="478.84" cy="223.60" r="1.9" fill="#1f2f7a"/>
<circle cx="478.84" cy="230.3" r="2.6" fill="#fff" stroke="#2a48a0" stroke-width="0.8"/>
<circle cx="478.84" cy="230.3" r="0.95" fill="#121c55"/>
<circle cx="487.98" cy="224.20" r="1.9" fill="#1f2f7a"/>
<circle cx="490.68" cy="225.50" r="1.85" fill="none" stroke="#6f78a4" stroke-width="0.95"/>
<circle cx="489.68" cy="230.3" r="2.6" fill="#fff" stroke="#2a48a0" stroke-width="0.8"/>
<circle cx="489.68" cy="230.3" r="0.95" fill="#121c55"/>
<ellipse cx="500.52" cy="230.30" rx="2.8" ry="2.1" fill="#2a48a0"/>
<circle cx="511.36" cy="230.3" r="2.6" fill="#fff" stroke="#6a78b0" stroke-width="0.8"/>
<circle cx="511.36" cy="230.3" r="0.95" fill="#121c55"/>
<ellipse cx="522.20" cy="230.30" rx="2.8" ry="2.1" fill="#2a48a0"/>
<ellipse cx="533.04" cy="230.30" rx="2.8" ry="2.1" fill="#2a48a0"/>
<circle cx="41.80" cy="404.50" r="2.15" fill="none" stroke="#2a4593" stroke-width="1.35"/>
<circle cx="41.80" cy="411.20" r="2.15" fill="none" stroke="#2a4593" stroke-width="1.35"/>
<rect x="38.95" y="412.05" width="5.70" height="26.70" rx="2.85" fill="#2c4a9c"/>
<circle cx="41.80" cy="435.90" r="1.0" fill="#dfe6f6"/>
<circle cx="41.80" cy="440.90" r="2.15" fill="none" stroke="#2a4593" stroke-width="1.35"/>
<circle cx="41.80" cy="447.60" r="2.15" fill="none" stroke="#2a4593" stroke-width="1.35"/>
<rect x="38.95" y="451.65" width="5.70" height="18.10" rx="2.85" fill="#2c4a9c"/>
<circle cx="41.80" cy="466.90" r="1.0" fill="#dfe6f6"/>
<circle cx="52.70" cy="410.40" r="2.15" fill="none" stroke="#2a4593" stroke-width="1.35"/>
<circle cx="52.70" cy="419.10" r="2.15" fill="none" stroke="#2a4593" stroke-width="1.35"/>
<rect x="49.85" y="421.95" width="5.70" height="28.00" rx="2.85" fill="#2c4a9c"/>
<circle cx="52.70" cy="447.10" r="1.0" fill="#dfe6f6"/>
<circle cx="52.70" cy="449.60" r="2.15" fill="none" stroke="#2a4593" stroke-width="1.35"/>
<circle cx="52.70" cy="454.20" r="2.15" fill="none" stroke="#2a4593" stroke-width="1.35"/>
<circle cx="52.70" cy="459.40" r="2.15" fill="none" stroke="#2a4593" stroke-width="1.35"/>
<rect x="49.85" y="460.65" width="5.70" height="18.20" rx="2.85" fill="#2c4a9c"/>
<circle cx="52.70" cy="476.00" r="1.0" fill="#dfe6f6"/>
<ellipse cx="52.70" cy="468.00" rx="1.1" ry="0.9" fill="#dde4f5"/>
<ellipse cx="52.70" cy="472.00" rx="1.1" ry="0.9" fill="#dde4f5"/>
<circle cx="63.60" cy="409.20" r="2.15" fill="none" stroke="#2a4593" stroke-width="1.35"/>
<circle cx="63.60" cy="412.90" r="2.15" fill="none" stroke="#2a4593" stroke-width="1.35"/>
<rect x="60.75" y="413.25" width="5.70" height="39.40" rx="2.85" fill="#2c4a9c"/>
<circle cx="63.60" cy="449.80" r="1.0" fill="#dfe6f6"/>
<circle cx="63.60" cy="456.90" r="2.15" fill="none" stroke="#2a4593" stroke-width="1.35"/>
<circle cx="63.60" cy="460.70" r="2.15" fill="none" stroke="#2a4593" stroke-width="1.35"/>
<rect x="60.75" y="461.15" width="5.70" height="13.30" rx="2.85" fill="#2c4a9c"/>
<ellipse cx="63.60" cy="466.20" rx="1.1" ry="0.9" fill="#dde4f5"/>
<circle cx="74.50" cy="354.90" r="2.15" fill="none" stroke="#2a4593" stroke-width="1.35"/>
<circle cx="74.50" cy="378.50" r="2.15" fill="none" stroke="#2a4593" stroke-width="1.35"/>
<circle cx="74.50" cy="410.40" r="2.15" fill="none" stroke="#2a4593" stroke-width="1.35"/>
<circle cx="74.50" cy="423.50" r="2.15" fill="none" stroke="#2a4593" stroke-width="1.35"/>
<rect x="71.65" y="424.45" width="5.70" height="37.80" rx="2.85" fill="#2c4a9c"/>
<circle cx="74.50" cy="459.40" r="1.0" fill="#dfe6f6"/>
<circle cx="74.50" cy="465.60" r="2.15" fill="none" stroke="#2a4593" stroke-width="1.35"/>
<circle cx="85.40" cy="353.00" r="2.15" fill="none" stroke="#2a4593" stroke-width="1.35"/>
<circle cx="85.40" cy="395.00" r="2.15" fill="none" stroke="#2a4593" stroke-width="1.35"/>
<circle cx="85.40" cy="403.00" r="2.15" fill="none" stroke="#2a4593" stroke-width="1.35"/>
<circle cx="85.40" cy="410.40" r="2.15" fill="none" stroke="#2a4593" stroke-width="1.35"/>
<circle cx="85.40" cy="413.00" r="2.15" fill="none" stroke="#2a4593" stroke-width="1.35"/>
<circle cx="85.40" cy="416.00" r="2.15" fill="none" stroke="#2a4593" stroke-width="1.35"/>
<rect x="82.55" y="428.85" width="5.70" height="34.70" rx="2.85" fill="#2c4a9c"/>
<circle cx="85.40" cy="460.70" r="1.0" fill="#dfe6f6"/>
<circle cx="96.30" cy="386.90" r="2.15" fill="none" stroke="#2a4593" stroke-width="1.35"/>
<rect x="93.45" y="418.25" width="5.70" height="57.20" rx="2.85" fill="#2c4a9c"/>
<circle cx="96.30" cy="472.60" r="1.0" fill="#dfe6f6"/>
<ellipse cx="96.30" cy="450.80" rx="1.1" ry="0.9" fill="#dde4f5"/>
<ellipse cx="96.30" cy="454.40" rx="1.1" ry="0.9" fill="#dde4f5"/>
<ellipse cx="96.30" cy="472.60" rx="1.1" ry="0.9" fill="#dde4f5"/>
<circle cx="107.20" cy="398.80" r="2.15" fill="none" stroke="#2a4593" stroke-width="1.35"/>
<circle cx="107.20" cy="404.20" r="2.15" fill="none" stroke="#2a4593" stroke-width="1.35"/>
<circle cx="107.20" cy="408.70" r="2.15" fill="none" stroke="#2a4593" stroke-width="1.35"/>
<circle cx="107.20" cy="412.90" r="2.15" fill="none" stroke="#2a4593" stroke-width="1.35"/>
<rect x="104.35" y="414.45" width="5.70" height="40.40" rx="2.85" fill="#2c4a9c"/>
<circle cx="107.20" cy="452.00" r="1.0" fill="#dfe6f6"/>
<circle cx="107.20" cy="462.80" r="2.15" fill="none" stroke="#2a4593" stroke-width="1.35"/>
<circle cx="118.10" cy="318.80" r="2.15" fill="none" stroke="#2a4593" stroke-width="1.35"/>
<circle cx="118.10" cy="402.50" r="2.15" fill="none" stroke="#2a4593" stroke-width="1.35"/>
<circle cx="118.10" cy="419.10" r="2.15" fill="none" stroke="#2a4593" stroke-width="1.35"/>
<circle cx="118.10" cy="423.50" r="2.15" fill="none" stroke="#2a4593" stroke-width="1.35"/>
<circle cx="118.10" cy="428.50" r="2.15" fill="none" stroke="#2a4593" stroke-width="1.35"/>
<rect x="115.25" y="435.55" width="5.70" height="19.30" rx="2.85" fill="#2c4a9c"/>
<circle cx="118.10" cy="452.00" r="1.0" fill="#dfe6f6"/>
<circle cx="129.00" cy="380.20" r="2.15" fill="none" stroke="#2a4593" stroke-width="1.35"/>
<circle cx="129.00" cy="394.60" r="2.15" fill="none" stroke="#2a4593" stroke-width="1.35"/>
<circle cx="129.00" cy="409.40" r="2.15" fill="none" stroke="#2a4593" stroke-width="1.35"/>
<circle cx="129.00" cy="416.60" r="2.15" fill="none" stroke="#2a4593" stroke-width="1.35"/>
<circle cx="129.00" cy="419.80" r="2.15" fill="none" stroke="#2a4593" stroke-width="1.35"/>
<rect x="126.15" y="420.65" width="5.70" height="40.20" rx="2.85" fill="#2c4a9c"/>
<circle cx="129.00" cy="458.00" r="1.0" fill="#dfe6f6"/>
<circle cx="129.00" cy="464.00" r="2.15" fill="none" stroke="#2a4593" stroke-width="1.35"/>
<circle cx="129.00" cy="468.60" r="2.15" fill="none" stroke="#2a4593" stroke-width="1.35"/>
<circle cx="139.90" cy="323.70" r="2.15" fill="none" stroke="#2a4593" stroke-width="1.35"/>
<circle cx="139.90" cy="399.50" r="2.15" fill="none" stroke="#2a4593" stroke-width="1.35"/>
<circle cx="139.90" cy="414.40" r="2.15" fill="none" stroke="#2a4593" stroke-width="1.35"/>
<circle cx="139.90" cy="424.30" r="2.15" fill="none" stroke="#2a4593" stroke-width="1.35"/>
<circle cx="139.90" cy="429.70" r="2.15" fill="none" stroke="#2a4593" stroke-width="1.35"/>
<rect x="137.05" y="431.85" width="5.70" height="24.30" rx="2.85" fill="#2c4a9c"/>
<circle cx="139.90" cy="453.30" r="1.0" fill="#dfe6f6"/>
<circle cx="150.80" cy="398.80" r="2.15" fill="none" stroke="#2a4593" stroke-width="1.35"/>
<circle cx="150.80" cy="407.00" r="2.15" fill="none" stroke="#2a4593" stroke-width="1.35"/>
<circle cx="150.80" cy="410.00" r="2.15" fill="none" stroke="#2a4593" stroke-width="1.45"/>
<circle cx="150.80" cy="413.70" r="2.15" fill="none" stroke="#2a4593" stroke-width="1.45"/>
<circle cx="150.80" cy="417.40" r="2.15" fill="none" stroke="#2a4593" stroke-width="1.45"/>
<circle cx="150.80" cy="421.10" r="2.15" fill="none" stroke="#2a4593" stroke-width="1.45"/>
<circle cx="150.80" cy="424.80" r="2.15" fill="none" stroke="#2a4593" stroke-width="1.45"/>
<rect x="147.95" y="425.65" width="5.70" height="40.10" rx="2.85" fill="#2c4a9c"/>
<circle cx="150.80" cy="462.90" r="1.0" fill="#dfe6f6"/>
<circle cx="150.80" cy="473.80" r="2.15" fill="none" stroke="#2a4593" stroke-width="1.35"/>
<circle cx="161.70" cy="318.80" r="2.15" fill="none" stroke="#2a4593" stroke-width="1.35"/>
<circle cx="161.70" cy="402.20" r="2.15" fill="none" stroke="#2a4593" stroke-width="1.35"/>
<circle cx="161.70" cy="416.40" r="2.15" fill="none" stroke="#2a4593" stroke-width="1.35"/>
<circle cx="161.70" cy="422.30" r="2.15" fill="none" stroke="#2a4593" stroke-width="1.35"/>
<rect x="158.85" y="435.65" width="5.70" height="18.20" rx="2.85" fill="#2c4a9c"/>
<circle cx="161.70" cy="451.00" r="1.0" fill="#dfe6f6"/>
<ellipse cx="161.70" cy="440.50" rx="1.1" ry="0.9" fill="#dde4f5"/>
<circle cx="172.60" cy="317.80" r="2.15" fill="none" stroke="#2a4593" stroke-width="1.35"/>
<circle cx="172.60" cy="402.50" r="2.15" fill="none" stroke="#2a4593" stroke-width="1.35"/>
<circle cx="172.60" cy="419.80" r="2.15" fill="none" stroke="#2a4593" stroke-width="1.35"/>
<circle cx="172.60" cy="421.80" r="2.15" fill="none" stroke="#2a4593" stroke-width="1.35"/>
<rect x="169.75" y="434.35" width="5.70" height="20.50" rx="2.85" fill="#2c4a9c"/>
<circle cx="172.60" cy="452.00" r="1.0" fill="#dfe6f6"/>
<circle cx="183.50" cy="339.30" r="2.15" fill="none" stroke="#2a4593" stroke-width="1.35"/>
<circle cx="183.50" cy="377.70" r="2.15" fill="none" stroke="#2a4593" stroke-width="1.35"/>
<circle cx="183.50" cy="404.30" r="2.15" fill="none" stroke="#2a4593" stroke-width="1.35"/>
<circle cx="183.50" cy="418.90" r="2.15" fill="none" stroke="#2a4593" stroke-width="1.35"/>
<circle cx="183.50" cy="424.30" r="2.15" fill="none" stroke="#2a4593" stroke-width="1.35"/>
<circle cx="183.50" cy="428.10" r="2.15" fill="none" stroke="#2a4593" stroke-width="1.35"/>
<rect x="180.65" y="432.75" width="5.70" height="22.10" rx="2.85" fill="#2c4a9c"/>
<circle cx="183.50" cy="452.00" r="1.0" fill="#dfe6f6"/>
<ellipse cx="183.50" cy="437.50" rx="1.1" ry="0.9" fill="#dde4f5"/>
<ellipse cx="183.50" cy="439.50" rx="1.1" ry="0.9" fill="#dde4f5"/>
<circle cx="194.40" cy="323.70" r="2.15" fill="none" stroke="#2a4593" stroke-width="1.35"/>
<circle cx="194.40" cy="418.20" r="2.15" fill="none" stroke="#2a4593" stroke-width="1.35"/>
<circle cx="194.40" cy="422.80" r="2.15" fill="none" stroke="#2a4593" stroke-width="1.35"/>
<circle cx="194.40" cy="429.20" r="2.15" fill="none" stroke="#2a4593" stroke-width="1.35"/>
<rect x="191.55" y="430.35" width="5.70" height="29.50" rx="2.85" fill="#2c4a9c"/>
<circle cx="194.40" cy="457.00" r="1.0" fill="#dfe6f6"/>
<ellipse cx="194.40" cy="434.60" rx="1.1" ry="0.9" fill="#dde4f5"/>
<ellipse cx="194.40" cy="437.00" rx="1.1" ry="0.9" fill="#dde4f5"/>
<circle cx="205.30" cy="315.80" r="2.15" fill="none" stroke="#2a4593" stroke-width="1.35"/>
<circle cx="205.30" cy="419.80" r="2.15" fill="none" stroke="#2a4593" stroke-width="1.35"/>
<circle cx="205.30" cy="424.90" r="2.15" fill="none" stroke="#2a4593" stroke-width="1.35"/>
<circle cx="205.30" cy="429.80" r="2.15" fill="none" stroke="#2a4593" stroke-width="1.35"/>
<rect x="202.45" y="431.55" width="5.70" height="26.60" rx="2.85" fill="#2c4a9c"/>
<circle cx="205.30" cy="455.30" r="1.0" fill="#dfe6f6"/>
<circle cx="216.20" cy="310.40" r="2.15" fill="none" stroke="#2a4593" stroke-width="1.35"/>
<circle cx="216.20" cy="415.40" r="2.15" fill="none" stroke="#2a4593" stroke-width="1.35"/>
<circle cx="216.20" cy="424.80" r="2.15" fill="none" stroke="#2a4593" stroke-width="1.35"/>
<rect x="213.35" y="429.35" width="5.70" height="24.30" rx="2.85" fill="#2c4a9c"/>
<circle cx="216.20" cy="450.80" r="1.0" fill="#dfe6f6"/>
<circle cx="227.10" cy="364.10" r="2.15" fill="none" stroke="#2a4593" stroke-width="1.35"/>
<circle cx="227.10" cy="380.70" r="2.15" fill="none" stroke="#2a4593" stroke-width="1.35"/>
<circle cx="227.10" cy="405.80" r="2.15" fill="none" stroke="#2a4593" stroke-width="1.35"/>
<circle cx="227.10" cy="410.20" r="2.15" fill="none" stroke="#2a4593" stroke-width="1.35"/>
<circle cx="227.10" cy="415.00" r="2.15" fill="none" stroke="#2a4593" stroke-width="1.35"/>
<circle cx="227.10" cy="419.70" r="2.15" fill="none" stroke="#2a4593" stroke-width="1.35"/>
<rect x="224.25" y="428.15" width="5.70" height="33.50" rx="2.85" fill="#2c4a9c"/>
<circle cx="227.10" cy="458.80" r="1.0" fill="#dfe6f6"/>
<circle cx="238.00" cy="364.80" r="2.15" fill="none" stroke="#2a4593" stroke-width="1.35"/>
<circle cx="238.00" cy="393.60" r="2.15" fill="none" stroke="#2a4593" stroke-width="1.35"/>
<circle cx="238.00" cy="399.00" r="2.15" fill="none" stroke="#2a4593" stroke-width="1.35"/>
<circle cx="238.00" cy="407.90" r="2.15" fill="none" stroke="#2a4593" stroke-width="1.35"/>
<circle cx="238.00" cy="419.70" r="2.15" fill="none" stroke="#2a4593" stroke-width="1.35"/>
<circle cx="238.00" cy="423.50" r="2.15" fill="none" stroke="#2a4593" stroke-width="1.45"/>
<circle cx="238.00" cy="428.20" r="2.15" fill="none" stroke="#2a4593" stroke-width="1.45"/>
<rect x="235.15" y="428.75" width="5.70" height="35.60" rx="2.85" fill="#2c4a9c"/>
<circle cx="238.00" cy="461.50" r="1.0" fill="#dfe6f6"/>
<circle cx="238.00" cy="465.60" r="2.15" fill="none" stroke="#2a4593" stroke-width="1.35"/>
<circle cx="248.90" cy="387.10" r="2.15" fill="none" stroke="#2a4593" stroke-width="1.35"/>
<circle cx="248.90" cy="393.80" r="2.15" fill="none" stroke="#2a4593" stroke-width="1.35"/>
<circle cx="248.90" cy="400.00" r="2.15" fill="none" stroke="#2a4593" stroke-width="1.35"/>
<rect x="246.05" y="405.85" width="5.70" height="57.70" rx="2.85" fill="#2c4a9c"/>
<circle cx="248.90" cy="460.70" r="1.0" fill="#dfe6f6"/>
<circle cx="259.80" cy="388.20" r="2.15" fill="none" stroke="#2a4593" stroke-width="1.35"/>
<circle cx="259.80" cy="397.00" r="2.15" fill="none" stroke="#2a4593" stroke-width="1.45"/>
<circle cx="259.80" cy="400.40" r="2.15" fill="none" stroke="#2a4593" stroke-width="1.45"/>
<circle cx="259.80" cy="403.80" r="2.15" fill="none" stroke="#2a4593" stroke-width="1.45"/>
<circle cx="259.80" cy="407.20" r="2.15" fill="none" stroke="#2a4593" stroke-width="1.45"/>
<circle cx="259.80" cy="410.60" r="2.15" fill="none" stroke="#2a4593" stroke-width="1.45"/>
<circle cx="259.80" cy="414.00" r="2.15" fill="none" stroke="#2a4593" stroke-width="1.45"/>
<circle cx="259.80" cy="417.40" r="2.15" fill="none" stroke="#2a4593" stroke-width="1.45"/>
<circle cx="259.80" cy="420.80" r="2.15" fill="none" stroke="#2a4593" stroke-width="1.45"/>
<circle cx="259.80" cy="424.20" r="2.15" fill="none" stroke="#2a4593" stroke-width="1.45"/>
<circle cx="259.80" cy="427.60" r="2.15" fill="none" stroke="#2a4593" stroke-width="1.45"/>
<circle cx="259.80" cy="431.00" r="2.15" fill="none" stroke="#2a4593" stroke-width="1.45"/>
<rect x="256.95" y="431.45" width="5.70" height="30.20" rx="2.85" fill="#2c4a9c"/>
<circle cx="259.80" cy="458.80" r="1.0" fill="#dfe6f6"/>
<circle cx="270.70" cy="366.60" r="2.15" fill="none" stroke="#2a4593" stroke-width="1.35"/>
<circle cx="270.70" cy="391.50" r="2.15" fill="none" stroke="#2a4593" stroke-width="1.35"/>
<circle cx="270.70" cy="406.10" r="2.15" fill="none" stroke="#2a4593" stroke-width="1.35"/>
<circle cx="270.70" cy="412.60" r="2.15" fill="none" stroke="#2a4593" stroke-width="1.45"/>
<circle cx="270.70" cy="416.00" r="2.15" fill="none" stroke="#2a4593" stroke-width="1.45"/>
<circle cx="270.70" cy="419.40" r="2.15" fill="none" stroke="#2a4593" stroke-width="1.45"/>
<circle cx="270.70" cy="422.80" r="2.15" fill="none" stroke="#2a4593" stroke-width="1.45"/>
<circle cx="270.70" cy="426.20" r="2.15" fill="none" stroke="#2a4593" stroke-width="1.45"/>
<circle cx="270.70" cy="429.60" r="2.15" fill="none" stroke="#2a4593" stroke-width="1.45"/>
<rect x="267.85" y="430.85" width="5.70" height="25.40" rx="2.85" fill="#2c4a9c"/>
<circle cx="270.70" cy="453.40" r="1.0" fill="#dfe6f6"/>
<rect x="267.85" y="457.35" width="5.70" height="12.50" rx="2.85" fill="#2c4a9c"/>
<line x1="304.10" y1="405" x2="304.10" y2="465.6" stroke="#a3b0d2" stroke-width="1"/>
<rect x="301.60" y="431" width="5" height="30.4" fill="#2a48a0"/>
<rect x="303.50" y="443.3" width="1.2" height="2" fill="#c04a6a" fill-opacity="0.75"/>
<circle cx="304.10" cy="442.1" r="2.6" fill="#fff" stroke="#2a48a0" stroke-width="0.8"/>
<circle cx="304.10" cy="442.1" r="0.95" fill="#121c55"/>
<line x1="314.89" y1="410.4" x2="314.89" y2="475.5" stroke="#a3b0d2" stroke-width="1"/>
<rect x="312.39" y="431.7" width="5" height="27.3" fill="#2a48a0"/>
<rect x="314.29" y="443.3" width="1.2" height="2" fill="#c04a6a" fill-opacity="0.75"/>
<circle cx="314.89" cy="438.4" r="2.6" fill="#fff" stroke="#2a48a0" stroke-width="0.8"/>
<circle cx="314.89" cy="438.4" r="0.95" fill="#121c55"/>
<line x1="325.68" y1="409.9" x2="325.68" y2="471.8" stroke="#a3b0d2" stroke-width="1"/>
<rect x="323.18" y="429.2" width="5" height="37.2" fill="#2a48a0"/>
<rect x="325.08" y="443.3" width="1.2" height="2" fill="#c04a6a" fill-opacity="0.75"/>
<circle cx="325.68" cy="439.6" r="2.6" fill="#fff" stroke="#2a48a0" stroke-width="0.8"/>
<circle cx="325.68" cy="439.6" r="0.95" fill="#121c55"/>
<line x1="336.47" y1="424.3" x2="336.47" y2="466.4" stroke="#a3b0d2" stroke-width="1"/>
<rect x="333.97" y="439.6" width="5" height="13.7" fill="#2a48a0"/>
<circle cx="334.57" cy="355.70" r="1.9" fill="#1f2f7a"/>
<circle cx="336.27" cy="379.10" r="1.9" fill="#1f2f7a"/>
<circle cx="337.17" cy="410.90" r="1.85" fill="none" stroke="#6f78a4" stroke-width="0.95"/>
<rect x="335.87" y="443.3" width="1.2" height="2" fill="#c04a6a" fill-opacity="0.75"/>
<circle cx="336.47" cy="447" r="2.6" fill="#fff" stroke="#2a48a0" stroke-width="0.8"/>
<circle cx="336.47" cy="447" r="0.95" fill="#121c55"/>
<line x1="347.26" y1="417.3" x2="347.26" y2="458.2" stroke="#a3b0d2" stroke-width="1"/>
<rect x="344.76" y="440.1" width="5" height="16.9" fill="#2a48a0"/>
<circle cx="347.96" cy="353.10" r="1.9" fill="#1f2f7a"/>
<circle cx="345.46" cy="395.40" r="1.85" fill="none" stroke="#6f78a4" stroke-width="0.95"/>
<circle cx="345.06" cy="403.60" r="1.85" fill="none" stroke="#6f78a4" stroke-width="0.95"/>
<circle cx="345.46" cy="411.50" r="1.85" fill="none" stroke="#6f78a4" stroke-width="0.95"/>
<circle cx="348.96" cy="413.60" r="1.85" fill="none" stroke="#6f78a4" stroke-width="0.95"/>
<rect x="346.66" y="443.3" width="1.2" height="2" fill="#c04a6a" fill-opacity="0.75"/>
<circle cx="347.26" cy="448" r="2.6" fill="#fff" stroke="#2a48a0" stroke-width="0.8"/>
<circle cx="347.26" cy="448" r="0.95" fill="#121c55"/>
<line x1="358.05" y1="387.1" x2="358.05" y2="472.3" stroke="#a3b0d2" stroke-width="1"/>
<rect x="355.55" y="429.7" width="5" height="31.7" fill="#2a48a0"/>
<rect x="357.45" y="443.3" width="1.2" height="2" fill="#c04a6a" fill-opacity="0.75"/>
<circle cx="358.05" cy="442.1" r="2.6" fill="#fff" stroke="#2a48a0" stroke-width="0.8"/>
<circle cx="358.05" cy="442.1" r="0.95" fill="#121c55"/>
<line x1="368.84" y1="400" x2="368.84" y2="462.7" stroke="#a3b0d2" stroke-width="1"/>
<rect x="366.34" y="429" width="5" height="33.7" fill="#2a48a0"/>
<rect x="368.24" y="443.3" width="1.2" height="2" fill="#c04a6a" fill-opacity="0.75"/>
<circle cx="368.84" cy="448.1" r="2.6" fill="#fff" stroke="#2a48a0" stroke-width="0.8"/>
<circle cx="368.84" cy="448.1" r="0.95" fill="#121c55"/>
<circle cx="379.83" cy="318.50" r="1.9" fill="#1f2f7a"/>
<circle cx="377.43" cy="402.60" r="1.9" fill="#1f2f7a"/>
<circle cx="381.33" cy="419.90" r="1.9" fill="#1f2f7a"/>
<circle cx="377.03" cy="424.70" r="1.9" fill="#1f2f7a"/>
<circle cx="380.63" cy="428.30" r="1.9" fill="#1f2f7a"/>
<circle cx="379.63" cy="441.00" r="1.9" fill="#1f2f7a"/>
<circle cx="378.13" cy="440.50" r="1.85" fill="none" stroke="#6f78a4" stroke-width="0.95"/>
<circle cx="381.63" cy="441.50" r="1.85" fill="none" stroke="#6f78a4" stroke-width="0.95"/>
<rect x="379.03" y="443.5" width="1.2" height="2" fill="#c04a6a" fill-opacity="0.75"/>
<circle cx="379.63" cy="449.5" r="2.6" fill="#fff" stroke="#2a48a0" stroke-width="0.8"/>
<circle cx="379.63" cy="449.5" r="0.95" fill="#121c55"/>
<line x1="390.42" y1="409.2" x2="390.42" y2="467.8" stroke="#a3b0d2" stroke-width="1"/>
<rect x="387.92" y="436.9" width="5" height="18.7" fill="#2a48a0"/>
<circle cx="389.32" cy="380.20" r="1.9" fill="#1f2f7a"/>
<circle cx="390.52" cy="395.00" r="1.85" fill="none" stroke="#6f78a4" stroke-width="0.95"/>
<rect x="389.82" y="443.3" width="1.2" height="2" fill="#c04a6a" fill-opacity="0.75"/>
<circle cx="390.42" cy="447.2" r="2.6" fill="#fff" stroke="#2a48a0" stroke-width="0.8"/>
<circle cx="390.42" cy="447.2" r="0.95" fill="#121c55"/>
<line x1="401.21" y1="438" x2="401.21" y2="446" stroke="#a3b0d2" stroke-width="1"/>
<rect x="398.71" y="446.2" width="5" height="6.9" fill="#2a48a0"/>
<circle cx="403.41" cy="324.00" r="1.9" fill="#1f2f7a"/>
<circle cx="403.21" cy="400.00" r="1.9" fill="#1f2f7a"/>
<circle cx="401.81" cy="415.10" r="1.9" fill="#1f2f7a"/>
<circle cx="400.71" cy="425.50" r="1.9" fill="#1f2f7a"/>
<circle cx="398.81" cy="430.40" r="1.9" fill="#1f2f7a"/>
<circle cx="400.71" cy="435.80" r="1.85" fill="none" stroke="#6f78a4" stroke-width="0.95"/>
<circle cx="401.51" cy="438.00" r="1.85" fill="none" stroke="#6f78a4" stroke-width="0.95"/>
<rect x="400.61" y="443.4" width="1.2" height="2" fill="#c04a6a" fill-opacity="0.75"/>
<circle cx="401.21" cy="450.2" r="2.6" fill="#fff" stroke="#2a48a0" stroke-width="0.8"/>
<circle cx="401.21" cy="450.2" r="0.95" fill="#121c55"/>
<line x1="412.00" y1="408" x2="412.00" y2="473.5" stroke="#a3b0d2" stroke-width="1"/>
<rect x="409.50" y="435.8" width="5" height="20.6" fill="#2a48a0"/>
<circle cx="410.00" cy="399.60" r="1.85" fill="none" stroke="#6f78a4" stroke-width="0.95"/>
<rect x="411.40" y="443.3" width="1.2" height="2" fill="#c04a6a" fill-opacity="0.75"/>
<circle cx="412.00" cy="444.4" r="2.6" fill="#fff" stroke="#2a48a0" stroke-width="0.8"/>
<circle cx="412.00" cy="444.4" r="0.95" fill="#121c55"/>
<rect x="420.29" y="446.7" width="5" height="5.5" fill="#2a48a0"/>
<circle cx="424.09" cy="318.70" r="1.9" fill="#1f2f7a"/>
<circle cx="423.59" cy="401.50" r="1.9" fill="#1f2f7a"/>
<circle cx="424.19" cy="416.70" r="1.9" fill="#1f2f7a"/>
<circle cx="421.19" cy="422.70" r="1.9" fill="#1f2f7a"/>
<circle cx="422.19" cy="440.30" r="1.9" fill="#1f2f7a"/>
<circle cx="424.39" cy="440.50" r="1.85" fill="none" stroke="#6f78a4" stroke-width="0.95"/>
<rect x="422.19" y="443.5" width="1.2" height="2" fill="#c04a6a" fill-opacity="0.75"/>
<circle cx="422.79" cy="449.5" r="2.6" fill="#fff" stroke="#2a48a0" stroke-width="0.8"/>
<circle cx="422.79" cy="449.5" r="0.95" fill="#121c55"/>
<rect x="431.08" y="446" width="5" height="6.0" fill="#2a48a0"/>
<circle cx="432.58" cy="317.70" r="1.9" fill="#1f2f7a"/>
<circle cx="435.38" cy="402.90" r="1.9" fill="#1f2f7a"/>
<circle cx="435.08" cy="420.50" r="1.9" fill="#1f2f7a"/>
<circle cx="434.78" cy="422.20" r="1.9" fill="#1f2f7a"/>
<circle cx="433.68" cy="439.60" r="1.85" fill="none" stroke="#6f78a4" stroke-width="0.95"/>
<circle cx="435.08" cy="439.00" r="1.85" fill="none" stroke="#6f78a4" stroke-width="0.95"/>
<rect x="432.98" y="443.0" width="1.2" height="2" fill="#c04a6a" fill-opacity="0.75"/>
<circle cx="433.58" cy="448.9" r="2.6" fill="#fff" stroke="#2a48a0" stroke-width="0.8"/>
<circle cx="433.58" cy="448.9" r="0.95" fill="#121c55"/>
<rect x="441.87" y="446.5" width="5" height="5.5" fill="#2a48a0"/>
<circle cx="444.77" cy="339.50" r="1.9" fill="#1f2f7a"/>
<circle cx="444.37" cy="377.70" r="1.9" fill="#1f2f7a"/>
<circle cx="443.77" cy="404.70" r="1.9" fill="#1f2f7a"/>
<circle cx="443.47" cy="419.20" r="1.9" fill="#1f2f7a"/>
<circle cx="441.87" cy="424.00" r="1.9" fill="#1f2f7a"/>
<circle cx="445.97" cy="428.00" r="1.9" fill="#1f2f7a"/>
<circle cx="444.07" cy="436.40" r="1.85" fill="none" stroke="#6f78a4" stroke-width="0.95"/>
<circle cx="446.77" cy="438.90" r="1.85" fill="none" stroke="#6f78a4" stroke-width="0.95"/>
<rect x="443.77" y="443.0" width="1.2" height="2" fill="#c04a6a" fill-opacity="0.75"/>
<circle cx="444.37" cy="450" r="2.6" fill="#fff" stroke="#2a48a0" stroke-width="0.8"/>
<circle cx="444.37" cy="450" r="0.95" fill="#121c55"/>
<line x1="455.16" y1="429.5" x2="455.16" y2="455.6" stroke="#a3b0d2" stroke-width="1"/>
<rect x="452.66" y="442" width="5" height="10.9" fill="#2a48a0"/>
<circle cx="452.86" cy="324.00" r="1.9" fill="#1f2f7a"/>
<circle cx="454.26" cy="418.00" r="1.85" fill="none" stroke="#6f78a4" stroke-width="0.95"/>
<circle cx="455.86" cy="419.60" r="1.85" fill="none" stroke="#6f78a4" stroke-width="0.95"/>
<circle cx="455.86" cy="422.90" r="1.85" fill="none" stroke="#6f78a4" stroke-width="0.95"/>
<rect x="454.56" y="443.3" width="1.2" height="2" fill="#c04a6a" fill-opacity="0.75"/>
<circle cx="455.16" cy="450.4" r="2.6" fill="#fff" stroke="#2a48a0" stroke-width="0.8"/>
<circle cx="455.16" cy="450.4" r="0.95" fill="#121c55"/>
<line x1="465.95" y1="434.9" x2="465.95" y2="454.5" stroke="#a3b0d2" stroke-width="1"/>
<rect x="463.45" y="443.1" width="5" height="8.7" fill="#2a48a0"/>
<circle cx="465.35" cy="316.30" r="1.9" fill="#1f2f7a"/>
<circle cx="463.75" cy="420.90" r="1.85" fill="none" stroke="#6f78a4" stroke-width="0.95"/>
<circle cx="465.45" cy="424.20" r="1.85" fill="none" stroke="#6f78a4" stroke-width="0.95"/>
<circle cx="466.95" cy="429.70" r="1.85" fill="none" stroke="#6f78a4" stroke-width="0.95"/>
<rect x="465.35" y="443.3" width="1.2" height="2" fill="#c04a6a" fill-opacity="0.75"/>
<circle cx="465.95" cy="448.5" r="2.6" fill="#fff" stroke="#2a48a0" stroke-width="0.8"/>
<circle cx="465.95" cy="448.5" r="0.95" fill="#121c55"/>
<circle cx="479.04" cy="310.50" r="1.9" fill="#1f2f7a"/>
<circle cx="478.74" cy="416.10" r="1.9" fill="#1f2f7a"/>
<circle cx="475.24" cy="424.90" r="1.9" fill="#1f2f7a"/>
<circle cx="477.64" cy="434.40" r="1.9" fill="#1f2f7a"/>
<circle cx="475.74" cy="436.30" r="1.9" fill="#1f2f7a"/>
<circle cx="474.64" cy="438.20" r="1.9" fill="#1f2f7a"/>
<circle cx="478.24" cy="442.50" r="1.85" fill="none" stroke="#6f78a4" stroke-width="0.95"/>
<rect x="476.14" y="443.7" width="1.2" height="2" fill="#c04a6a" fill-opacity="0.75"/>
<circle cx="476.74" cy="449.1" r="2.6" fill="#fff" stroke="#2a48a0" stroke-width="0.8"/>
<circle cx="476.74" cy="449.1" r="0.95" fill="#121c55"/>
<line x1="487.53" y1="410.4" x2="487.53" y2="458.9" stroke="#a3b0d2" stroke-width="1"/>
<rect x="485.03" y="438.7" width="5" height="20.2" fill="#2a48a0"/>
<circle cx="484.93" cy="364.60" r="1.9" fill="#1f2f7a"/>
<circle cx="486.43" cy="380.70" r="1.85" fill="none" stroke="#6f78a4" stroke-width="0.95"/>
<circle cx="485.83" cy="406.30" r="1.85" fill="none" stroke="#6f78a4" stroke-width="0.95"/>
<rect x="486.93" y="443.3" width="1.2" height="2" fill="#c04a6a" fill-opacity="0.75"/>
<circle cx="487.53" cy="451.3" r="2.6" fill="#fff" stroke="#2a48a0" stroke-width="0.8"/>
<circle cx="487.53" cy="451.3" r="0.95" fill="#121c55"/>
<line x1="498.32" y1="420.2" x2="498.32" y2="466" stroke="#a3b0d2" stroke-width="1"/>
<rect x="495.82" y="437.1" width="5" height="18.0" fill="#2a48a0"/>
<circle cx="499.42" cy="365.30" r="1.9" fill="#1f2f7a"/>
<circle cx="495.92" cy="394.20" r="1.85" fill="none" stroke="#6f78a4" stroke-width="0.95"/>
<circle cx="498.92" cy="400.00" r="1.85" fill="none" stroke="#6f78a4" stroke-width="0.95"/>
<circle cx="496.42" cy="408.00" r="1.85" fill="none" stroke="#6f78a4" stroke-width="0.95"/>
<rect x="497.72" y="443.3" width="1.2" height="2" fill="#c04a6a" fill-opacity="0.75"/>
<circle cx="498.32" cy="447.8" r="2.6" fill="#fff" stroke="#2a48a0" stroke-width="0.8"/>
<circle cx="498.32" cy="447.8" r="0.95" fill="#121c55"/>
<line x1="509.11" y1="400" x2="509.11" y2="461.4" stroke="#a3b0d2" stroke-width="1"/>
<rect x="506.61" y="436.7" width="5" height="24.3" fill="#2a48a0"/>
<circle cx="507.91" cy="387.80" r="1.85" fill="none" stroke="#6f78a4" stroke-width="0.95"/>
<circle cx="509.91" cy="395.00" r="1.85" fill="none" stroke="#6f78a4" stroke-width="0.95"/>
<rect x="508.51" y="443.3" width="1.2" height="2" fill="#c04a6a" fill-opacity="0.75"/>
<circle cx="509.11" cy="448.8" r="2.6" fill="#fff" stroke="#2a48a0" stroke-width="0.8"/>
<circle cx="509.11" cy="448.8" r="0.95" fill="#121c55"/>
<line x1="519.90" y1="408.7" x2="519.90" y2="459" stroke="#a3b0d2" stroke-width="1"/>
<rect x="517.40" y="437.7" width="5" height="21.3" fill="#2a48a0"/>
<circle cx="516.90" cy="388.50" r="1.85" fill="none" stroke="#6f78a4" stroke-width="0.95"/>
<circle cx="520.40" cy="397.80" r="1.85" fill="none" stroke="#6f78a4" stroke-width="0.95"/>
<circle cx="521.90" cy="401.80" r="1.85" fill="none" stroke="#6f78a4" stroke-width="0.95"/>
<circle cx="518.90" cy="405.20" r="1.85" fill="none" stroke="#6f78a4" stroke-width="0.95"/>
<circle cx="521.40" cy="406.00" r="1.85" fill="none" stroke="#6f78a4" stroke-width="0.95"/>
<rect x="519.30" y="443.3" width="1.2" height="2" fill="#c04a6a" fill-opacity="0.75"/>
<circle cx="519.90" cy="451.3" r="2.6" fill="#fff" stroke="#2a48a0" stroke-width="0.8"/>
<circle cx="519.90" cy="451.3" r="0.95" fill="#121c55"/>
<line x1="530.69" y1="406.2" x2="530.69" y2="462.4" stroke="#a3b0d2" stroke-width="1"/>
<rect x="528.19" y="438.4" width="5" height="24.0" fill="#2a48a0"/>
<circle cx="532.39" cy="367.00" r="1.9" fill="#1f2f7a"/>
<circle cx="531.89" cy="391.80" r="1.85" fill="none" stroke="#6f78a4" stroke-width="0.95"/>
<rect x="530.09" y="443.3" width="1.2" height="2" fill="#c04a6a" fill-opacity="0.75"/>
<circle cx="530.69" cy="444.6" r="2.6" fill="#fff" stroke="#2a48a0" stroke-width="0.8"/>
<circle cx="530.69" cy="444.6" r="0.95" fill="#121c55"/>
<rect x="38.25" y="561.95" width="5.70" height="16.40" rx="2.85" fill="#2c4a9c"/>
<circle cx="41.10" cy="575.50" r="1.0" fill="#dfe6f6"/>
<rect x="38.25" y="575.95" width="5.70" height="25.90" rx="2.85" fill="#2c4a9c"/>
<circle cx="41.10" cy="599.00" r="1.0" fill="#dfe6f6"/>
<rect x="49.20" y="568.85" width="5.70" height="28.10" rx="2.85" fill="#2c4a9c"/>
<circle cx="52.05" cy="594.10" r="1.0" fill="#dfe6f6"/>
<rect x="60.15" y="566.95" width="5.70" height="39.20" rx="2.85" fill="#2c4a9c"/>
<circle cx="63.00" cy="603.30" r="1.0" fill="#dfe6f6"/>
<ellipse cx="63.00" cy="582.40" rx="1.1" ry="0.9" fill="#dde4f5"/>
<ellipse cx="63.00" cy="586.00" rx="1.1" ry="0.9" fill="#dde4f5"/>
<ellipse cx="63.00" cy="597.00" rx="1.1" ry="0.9" fill="#dde4f5"/>
<circle cx="73.95" cy="619.70" r="2.15" fill="none" stroke="#2a4593" stroke-width="1.45"/>
<circle cx="73.95" cy="622.78" r="2.15" fill="none" stroke="#2a4593" stroke-width="1.45"/>
<circle cx="73.95" cy="625.85" r="2.15" fill="none" stroke="#2a4593" stroke-width="1.45"/>
<circle cx="73.95" cy="628.92" r="2.15" fill="none" stroke="#2a4593" stroke-width="1.45"/>
<circle cx="73.95" cy="632.00" r="2.15" fill="none" stroke="#2a4593" stroke-width="1.45"/>
<rect x="71.10" y="630.15" width="5.70" height="20.30" rx="2.85" fill="#2c4a9c"/>
<circle cx="73.95" cy="647.60" r="1.0" fill="#dfe6f6"/>
<circle cx="73.95" cy="670.00" r="2.15" fill="none" stroke="#2a4593" stroke-width="1.35"/>
<circle cx="73.95" cy="685.50" r="2.15" fill="none" stroke="#2a4593" stroke-width="1.35"/>
<circle cx="73.95" cy="697.40" r="2.15" fill="none" stroke="#2a4593" stroke-width="1.35"/>
<circle cx="73.95" cy="701.00" r="2.15" fill="none" stroke="#2a4593" stroke-width="1.35"/>
<circle cx="73.95" cy="703.60" r="2.15" fill="none" stroke="#2a4593" stroke-width="1.35"/>
<rect x="82.05" y="644.25" width="5.70" height="42.60" rx="2.85" fill="#2c4a9c"/>
<circle cx="84.90" cy="684.00" r="1.0" fill="#dfe6f6"/>
<circle cx="84.90" cy="687.00" r="2.15" fill="none" stroke="#2a4593" stroke-width="1.45"/>
<circle cx="84.90" cy="690.23" r="2.15" fill="none" stroke="#2a4593" stroke-width="1.45"/>
<circle cx="84.90" cy="693.45" r="2.15" fill="none" stroke="#2a4593" stroke-width="1.45"/>
<circle cx="84.90" cy="696.67" r="2.15" fill="none" stroke="#2a4593" stroke-width="1.45"/>
<circle cx="84.90" cy="699.90" r="2.15" fill="none" stroke="#2a4593" stroke-width="1.45"/>
<circle cx="95.85" cy="655.10" r="2.15" fill="none" stroke="#2a4593" stroke-width="1.35"/>
<rect x="93.00" y="657.15" width="5.70" height="30.70" rx="2.85" fill="#2c4a9c"/>
<circle cx="95.85" cy="685.00" r="1.0" fill="#dfe6f6"/>
<rect x="103.95" y="645.95" width="5.70" height="25.70" rx="2.85" fill="#2c4a9c"/>
<circle cx="106.80" cy="668.80" r="1.0" fill="#dfe6f6"/>
<circle cx="117.75" cy="610.70" r="2.15" fill="none" stroke="#2a4593" stroke-width="1.35"/>
<circle cx="117.75" cy="620.70" r="2.15" fill="none" stroke="#2a4593" stroke-width="1.45"/>
<circle cx="117.75" cy="623.76" r="2.15" fill="none" stroke="#2a4593" stroke-width="1.45"/>
<circle cx="117.75" cy="626.82" r="2.15" fill="none" stroke="#2a4593" stroke-width="1.45"/>
<circle cx="117.75" cy="629.88" r="2.15" fill="none" stroke="#2a4593" stroke-width="1.45"/>
<circle cx="117.75" cy="632.94" r="2.15" fill="none" stroke="#2a4593" stroke-width="1.45"/>
<circle cx="117.75" cy="636.00" r="2.15" fill="none" stroke="#2a4593" stroke-width="1.45"/>
<rect x="114.90" y="635.15" width="5.70" height="36.50" rx="2.85" fill="#2c4a9c"/>
<circle cx="117.75" cy="668.80" r="1.0" fill="#dfe6f6"/>
<circle cx="117.75" cy="681.20" r="2.15" fill="none" stroke="#2a4593" stroke-width="1.35"/>
<circle cx="117.75" cy="683.70" r="2.15" fill="none" stroke="#2a4593" stroke-width="1.35"/>
<rect x="125.85" y="616.15" width="5.70" height="29.30" rx="2.85" fill="#2c4a9c"/>
<circle cx="128.70" cy="642.60" r="1.0" fill="#dfe6f6"/>
<circle cx="128.70" cy="651.30" r="2.15" fill="none" stroke="#2a4593" stroke-width="1.35"/>
<rect x="125.85" y="651.15" width="5.70" height="9.30" rx="2.85" fill="#2c4a9c"/>
<circle cx="128.70" cy="681.20" r="2.15" fill="none" stroke="#2a4593" stroke-width="1.35"/>
<circle cx="128.70" cy="683.70" r="2.15" fill="none" stroke="#2a4593" stroke-width="1.35"/>
<circle cx="139.65" cy="574.10" r="2.15" fill="none" stroke="#2a4593" stroke-width="1.35"/>
<circle cx="139.65" cy="584.10" r="2.15" fill="none" stroke="#2a4593" stroke-width="1.45"/>
<circle cx="139.65" cy="587.40" r="2.15" fill="none" stroke="#2a4593" stroke-width="1.45"/>
<circle cx="139.65" cy="590.70" r="2.15" fill="none" stroke="#2a4593" stroke-width="1.45"/>
<circle cx="139.65" cy="594.00" r="2.15" fill="none" stroke="#2a4593" stroke-width="1.45"/>
<rect x="136.80" y="593.15" width="5.70" height="37.40" rx="2.85" fill="#2c4a9c"/>
<circle cx="139.65" cy="627.70" r="1.0" fill="#dfe6f6"/>
<circle cx="139.65" cy="663.80" r="2.15" fill="none" stroke="#2a4593" stroke-width="1.35"/>
<circle cx="139.65" cy="672.50" r="2.15" fill="none" stroke="#2a4593" stroke-width="1.35"/>
<circle cx="139.65" cy="678.00" r="2.15" fill="none" stroke="#2a4593" stroke-width="1.35"/>
<circle cx="139.65" cy="685.00" r="2.15" fill="none" stroke="#2a4593" stroke-width="1.35"/>
<circle cx="139.65" cy="691.20" r="2.15" fill="none" stroke="#2a4593" stroke-width="1.35"/>
<circle cx="139.65" cy="692.40" r="2.15" fill="none" stroke="#2a4593" stroke-width="1.35"/>
<circle cx="139.65" cy="698.60" r="2.15" fill="none" stroke="#2a4593" stroke-width="1.35"/>
<rect x="147.75" y="604.45" width="5.70" height="26.60" rx="2.85" fill="#2c4a9c"/>
<circle cx="150.60" cy="628.20" r="1.0" fill="#dfe6f6"/>
<circle cx="150.60" cy="701.90" r="2.15" fill="none" stroke="#2a4593" stroke-width="1.35"/>
<circle cx="150.60" cy="711.80" r="2.15" fill="none" stroke="#2a4593" stroke-width="1.35"/>
<circle cx="150.60" cy="716.80" r="2.15" fill="none" stroke="#2a4593" stroke-width="1.35"/>
<circle cx="150.60" cy="721.10" r="2.15" fill="none" stroke="#2a4593" stroke-width="1.35"/>
<circle cx="150.60" cy="724.80" r="2.15" fill="none" stroke="#2a4593" stroke-width="1.35"/>
<circle cx="150.60" cy="731.80" r="2.15" fill="none" stroke="#2a4593" stroke-width="1.35"/>
<circle cx="161.55" cy="610.70" r="2.15" fill="none" stroke="#2a4593" stroke-width="1.35"/>
<circle cx="161.55" cy="620.70" r="2.15" fill="none" stroke="#2a4593" stroke-width="1.35"/>
<circle cx="161.55" cy="625.20" r="2.15" fill="none" stroke="#2a4593" stroke-width="1.35"/>
<rect x="158.70" y="631.05" width="5.70" height="31.80" rx="2.85" fill="#2c4a9c"/>
<circle cx="161.55" cy="660.00" r="1.0" fill="#dfe6f6"/>
<circle cx="161.55" cy="662.00" r="2.15" fill="none" stroke="#2a4593" stroke-width="1.45"/>
<circle cx="161.55" cy="665.10" r="2.15" fill="none" stroke="#2a4593" stroke-width="1.45"/>
<circle cx="161.55" cy="668.20" r="2.15" fill="none" stroke="#2a4593" stroke-width="1.45"/>
<circle cx="161.55" cy="671.30" r="2.15" fill="none" stroke="#2a4593" stroke-width="1.45"/>
<circle cx="161.55" cy="674.40" r="2.15" fill="none" stroke="#2a4593" stroke-width="1.45"/>
<circle cx="161.55" cy="677.50" r="2.15" fill="none" stroke="#2a4593" stroke-width="1.45"/>
<circle cx="161.55" cy="680.60" r="2.15" fill="none" stroke="#2a4593" stroke-width="1.45"/>
<circle cx="161.55" cy="683.70" r="2.15" fill="none" stroke="#2a4593" stroke-width="1.45"/>
<circle cx="172.50" cy="595.60" r="2.15" fill="none" stroke="#2a4593" stroke-width="1.35"/>
<circle cx="172.50" cy="606.00" r="2.15" fill="none" stroke="#2a4593" stroke-width="1.35"/>
<circle cx="172.50" cy="610.70" r="2.15" fill="none" stroke="#2a4593" stroke-width="1.35"/>
<rect x="169.65" y="615.85" width="5.70" height="47.70" rx="2.85" fill="#2c4a9c"/>
<circle cx="172.50" cy="660.70" r="1.0" fill="#dfe6f6"/>
<circle cx="172.50" cy="667.30" r="2.15" fill="none" stroke="#2a4593" stroke-width="1.35"/>
<circle cx="183.45" cy="615.30" r="2.15" fill="none" stroke="#2a4593" stroke-width="1.35"/>
<circle cx="183.45" cy="620.00" r="2.15" fill="none" stroke="#2a4593" stroke-width="1.35"/>
<circle cx="183.45" cy="624.70" r="2.15" fill="none" stroke="#2a4593" stroke-width="1.35"/>
<rect x="180.60" y="623.85" width="5.70" height="47.70" rx="2.85" fill="#2c4a9c"/>
<circle cx="183.45" cy="668.70" r="1.0" fill="#dfe6f6"/>
<circle cx="183.45" cy="672.00" r="2.15" fill="none" stroke="#2a4593" stroke-width="1.35"/>
<circle cx="183.45" cy="675.30" r="2.15" fill="none" stroke="#2a4593" stroke-width="1.35"/>
<circle cx="183.45" cy="679.60" r="2.15" fill="none" stroke="#2a4593" stroke-width="1.35"/>
<circle cx="183.45" cy="692.40" r="2.15" fill="none" stroke="#2a4593" stroke-width="1.35"/>
<rect x="180.60" y="694.55" width="5.70" height="15.70" rx="2.85" fill="#2c4a9c"/>
<circle cx="183.45" cy="707.40" r="1.0" fill="#dfe6f6"/>
<circle cx="194.40" cy="626.40" r="2.15" fill="none" stroke="#2a4593" stroke-width="1.35"/>
<rect x="191.55" y="634.75" width="5.70" height="38.10" rx="2.85" fill="#2c4a9c"/>
<circle cx="194.40" cy="670.00" r="1.0" fill="#dfe6f6"/>
<circle cx="194.40" cy="678.00" r="2.15" fill="none" stroke="#2a4593" stroke-width="1.35"/>
<circle cx="205.35" cy="592.30" r="2.15" fill="none" stroke="#2a4593" stroke-width="1.35"/>
<rect x="202.50" y="602.65" width="5.70" height="28.90" rx="2.85" fill="#2c4a9c"/>
<circle cx="205.35" cy="628.70" r="1.0" fill="#dfe6f6"/>
<circle cx="205.35" cy="631.90" r="2.15" fill="none" stroke="#2a4593" stroke-width="1.35"/>
<rect x="202.50" y="633.05" width="5.70" height="12.80" rx="2.85" fill="#2c4a9c"/>
<circle cx="205.35" cy="648.70" r="2.15" fill="none" stroke="#2a4593" stroke-width="1.35"/>
<circle cx="205.35" cy="664.60" r="2.15" fill="none" stroke="#2a4593" stroke-width="1.35"/>
<rect x="202.50" y="667.35" width="5.70" height="11.30" rx="2.85" fill="#2c4a9c"/>
<circle cx="216.30" cy="570.40" r="2.15" fill="none" stroke="#2a4593" stroke-width="1.35"/>
<circle cx="216.30" cy="584.10" r="2.15" fill="none" stroke="#2a4593" stroke-width="1.35"/>
<rect x="213.45" y="584.95" width="5.70" height="12.00" rx="2.85" fill="#2c4a9c"/>
<rect x="213.45" y="594.95" width="5.70" height="39.30" rx="2.85" fill="#2c4a9c"/>
<circle cx="216.30" cy="631.40" r="1.0" fill="#dfe6f6"/>
<circle cx="216.30" cy="663.80" r="2.15" fill="none" stroke="#2a4593" stroke-width="1.35"/>
<circle cx="216.30" cy="683.70" r="2.15" fill="none" stroke="#2a4593" stroke-width="1.35"/>
<circle cx="216.30" cy="691.20" r="2.15" fill="none" stroke="#2a4593" stroke-width="1.35"/>
<circle cx="216.30" cy="696.90" r="2.15" fill="none" stroke="#2a4593" stroke-width="1.35"/>
<circle cx="216.30" cy="727.30" r="2.15" fill="none" stroke="#2a4593" stroke-width="1.35"/>
<circle cx="227.25" cy="596.60" r="2.15" fill="none" stroke="#2a4593" stroke-width="1.35"/>
<rect x="224.40" y="596.15" width="5.70" height="37.70" rx="2.85" fill="#2c4a9c"/>
<circle cx="227.25" cy="631.00" r="1.0" fill="#dfe6f6"/>
<rect x="224.40" y="632.15" width="5.70" height="10.70" rx="2.85" fill="#2c4a9c"/>
<circle cx="227.25" cy="643.90" r="2.15" fill="none" stroke="#2a4593" stroke-width="1.35"/>
<circle cx="227.25" cy="657.10" r="2.15" fill="none" stroke="#2a4593" stroke-width="1.35"/>
<circle cx="227.25" cy="664.50" r="2.15" fill="none" stroke="#2a4593" stroke-width="1.35"/>
<circle cx="227.25" cy="668.00" r="2.15" fill="none" stroke="#2a4593" stroke-width="1.35"/>
<circle cx="227.25" cy="682.50" r="2.15" fill="none" stroke="#2a4593" stroke-width="1.35"/>
<circle cx="227.25" cy="687.40" r="2.15" fill="none" stroke="#2a4593" stroke-width="1.35"/>
<circle cx="227.25" cy="702.40" r="2.15" fill="none" stroke="#2a4593" stroke-width="1.35"/>
<circle cx="238.20" cy="624.70" r="2.15" fill="none" stroke="#2a4593" stroke-width="1.35"/>
<rect x="235.35" y="626.05" width="5.70" height="31.90" rx="2.85" fill="#2c4a9c"/>
<circle cx="238.20" cy="655.10" r="1.0" fill="#dfe6f6"/>
<circle cx="238.20" cy="687.40" r="2.15" fill="none" stroke="#2a4593" stroke-width="1.35"/>
<circle cx="238.20" cy="691.20" r="2.15" fill="none" stroke="#2a4593" stroke-width="1.35"/>
<circle cx="238.20" cy="693.70" r="2.15" fill="none" stroke="#2a4593" stroke-width="1.35"/>
<circle cx="238.20" cy="712.30" r="2.15" fill="none" stroke="#2a4593" stroke-width="1.35"/>
<rect x="246.30" y="639.75" width="5.70" height="35.60" rx="2.85" fill="#2c4a9c"/>
<circle cx="249.15" cy="672.50" r="1.0" fill="#dfe6f6"/>
<circle cx="249.15" cy="676.20" r="2.15" fill="none" stroke="#2a4593" stroke-width="1.35"/>
<rect x="257.25" y="659.65" width="5.70" height="36.90" rx="2.85" fill="#2c4a9c"/>
<circle cx="260.10" cy="693.70" r="1.0" fill="#dfe6f6"/>
<circle cx="260.10" cy="698.60" r="2.15" fill="none" stroke="#2a4593" stroke-width="1.35"/>
<circle cx="260.10" cy="706.10" r="2.15" fill="none" stroke="#2a4593" stroke-width="1.35"/>
<rect x="268.20" y="638.55" width="5.70" height="28.10" rx="2.85" fill="#2c4a9c"/>
<circle cx="271.05" cy="663.80" r="1.0" fill="#dfe6f6"/>
<rect x="268.20" y="668.45" width="5.70" height="25.60" rx="2.85" fill="#2c4a9c"/>
<circle cx="271.05" cy="691.20" r="1.0" fill="#dfe6f6"/>
<line x1="304.30" y1="564.2" x2="304.30" y2="599" stroke="#a3b0d2" stroke-width="1"/>
<rect x="301.80" y="569.2" width="5" height="17.4" fill="#2a48a0"/>
<circle cx="304.30" cy="572.9" r="2.6" fill="#fff" stroke="#2a48a0" stroke-width="0.8"/>
<circle cx="304.30" cy="572.9" r="0.95" fill="#121c55"/>
<line x1="315.07" y1="572.9" x2="315.07" y2="589.1" stroke="#a3b0d2" stroke-width="1"/>
<rect x="312.57" y="574.9" width="5" height="8.0" fill="#2a48a0"/>
<circle cx="315.07" cy="593.60" r="1.85" fill="none" stroke="#6f78a4" stroke-width="0.95"/>
<circle cx="315.07" cy="576.6" r="2.6" fill="#fff" stroke="#2a48a0" stroke-width="0.8"/>
<circle cx="315.07" cy="576.6" r="0.95" fill="#121c55"/>
<line x1="325.84" y1="569" x2="325.84" y2="602.8" stroke="#a3b0d2" stroke-width="1"/>
<rect x="323.34" y="572.9" width="5" height="17.4" fill="#2a48a0"/>
<circle cx="325.84" cy="575.4" r="2.6" fill="#fff" stroke="#2a48a0" stroke-width="0.8"/>
<circle cx="325.84" cy="575.4" r="0.95" fill="#121c55"/>
<line x1="336.61" y1="626.3" x2="336.61" y2="646.3" stroke="#a3b0d2" stroke-width="1"/>
<rect x="334.11" y="634.9" width="5" height="6.7" fill="#2a48a0"/>
<circle cx="336.61" cy="619.90" r="1.85" fill="none" stroke="#6f78a4" stroke-width="0.95"/>
<circle cx="336.61" cy="622.30" r="1.85" fill="none" stroke="#6f78a4" stroke-width="0.95"/>
<circle cx="335.11" cy="669.50" r="1.9" fill="#1f2f7a"/>
<circle cx="336.61" cy="670.50" r="1.9" fill="#1f2f7a"/>
<circle cx="334.81" cy="684.80" r="1.9" fill="#1f2f7a"/>
<circle cx="337.11" cy="684.80" r="1.9" fill="#1f2f7a"/>
<circle cx="334.51" cy="697.20" r="1.9" fill="#1f2f7a"/>
<circle cx="338.21" cy="698.20" r="1.9" fill="#1f2f7a"/>
<circle cx="335.31" cy="702.60" r="1.9" fill="#1f2f7a"/>
<circle cx="339.31" cy="699.80" r="1.9" fill="#1f2f7a"/>
<rect x="336.01" y="642.6" width="1.2" height="2" fill="#c04a6a" fill-opacity="0.75"/>
<circle cx="336.61" cy="637.3" r="2.6" fill="#fff" stroke="#2a48a0" stroke-width="0.8"/>
<circle cx="336.61" cy="637.3" r="0.95" fill="#121c55"/>
<line x1="347.38" y1="647.3" x2="347.38" y2="696.8" stroke="#a3b0d2" stroke-width="1"/>
<rect x="344.88" y="663.6" width="5" height="13.9" fill="#2a48a0"/>
<circle cx="344.88" cy="699.80" r="1.85" fill="none" stroke="#6f78a4" stroke-width="0.95"/>
<rect x="346.78" y="669.2" width="1.2" height="2" fill="#c04a6a" fill-opacity="0.75"/>
<circle cx="347.38" cy="666.2" r="2.6" fill="#fff" stroke="#2a48a0" stroke-width="0.8"/>
<circle cx="347.38" cy="666.2" r="0.95" fill="#121c55"/>
<line x1="358.15" y1="655.6" x2="358.15" y2="668.9" stroke="#a3b0d2" stroke-width="1"/>
<rect x="355.65" y="662" width="5" height="5.3" fill="#2a48a0"/>
<circle cx="355.85" cy="677.50" r="1.85" fill="none" stroke="#6f78a4" stroke-width="0.95"/>
<circle cx="360.15" cy="676.90" r="1.85" fill="none" stroke="#6f78a4" stroke-width="0.95"/>
<circle cx="355.15" cy="680.90" r="1.85" fill="none" stroke="#6f78a4" stroke-width="0.95"/>
<circle cx="359.45" cy="681.50" r="1.85" fill="none" stroke="#6f78a4" stroke-width="0.95"/>
<circle cx="359.75" cy="685.20" r="1.9" fill="#1f2f7a"/>
<circle cx="358.15" cy="664.2" r="2.6" fill="#fff" stroke="#2a48a0" stroke-width="0.8"/>
<circle cx="358.15" cy="664.2" r="0.95" fill="#121c55"/>
<line x1="368.92" y1="648.9" x2="368.92" y2="664" stroke="#a3b0d2" stroke-width="1"/>
<rect x="366.42" y="655.6" width="5" height="8.6" fill="#2a48a0"/>
<rect x="368.32" y="658.6" width="1.2" height="2" fill="#c04a6a" fill-opacity="0.75"/>
<circle cx="368.92" cy="663.5" r="2.6" fill="#fff" stroke="#2a48a0" stroke-width="0.8"/>
<circle cx="368.92" cy="663.5" r="0.95" fill="#121c55"/>
<line x1="379.69" y1="628.3" x2="379.69" y2="680.9" stroke="#a3b0d2" stroke-width="1"/>
<rect x="377.19" y="647.3" width="5" height="12.9" fill="#2a48a0"/>
<circle cx="379.69" cy="610.60" r="1.85" fill="none" stroke="#6f78a4" stroke-width="0.95"/>
<circle cx="379.69" cy="620.70" r="1.85" fill="none" stroke="#6f78a4" stroke-width="0.95"/>
<circle cx="381.69" cy="625.00" r="1.85" fill="none" stroke="#6f78a4" stroke-width="0.95"/>
<circle cx="377.39" cy="681.90" r="1.85" fill="none" stroke="#6f78a4" stroke-width="0.95"/>
<circle cx="381.39" cy="681.90" r="1.85" fill="none" stroke="#6f78a4" stroke-width="0.95"/>
<circle cx="377.69" cy="682.00" r="1.9" fill="#1f2f7a"/>
<circle cx="379.69" cy="654.9" r="2.6" fill="#fff" stroke="#2a48a0" stroke-width="0.8"/>
<circle cx="379.69" cy="654.9" r="0.95" fill="#121c55"/>
<line x1="390.46" y1="619.6" x2="390.46" y2="655.5" stroke="#a3b0d2" stroke-width="1"/>
<rect x="387.96" y="630.2" width="5" height="9.3" fill="#2a48a0"/>
<circle cx="389.46" cy="655.50" r="1.85" fill="none" stroke="#6f78a4" stroke-width="0.95"/>
<circle cx="388.56" cy="680.90" r="1.9" fill="#1f2f7a"/>
<circle cx="392.66" cy="681.20" r="1.9" fill="#1f2f7a"/>
<circle cx="390.46" cy="682.30" r="1.9" fill="#1f2f7a"/>
<rect x="389.86" y="639.8" width="1.2" height="2" fill="#c04a6a" fill-opacity="0.75"/>
<circle cx="390.46" cy="634.2" r="2.6" fill="#fff" stroke="#2a48a0" stroke-width="0.8"/>
<circle cx="390.46" cy="634.2" r="0.95" fill="#121c55"/>
<line x1="401.23" y1="583.6" x2="401.23" y2="626.2" stroke="#a3b0d2" stroke-width="1"/>
<rect x="398.73" y="604.9" width="5" height="18.6" fill="#2a48a0"/>
<circle cx="399.73" cy="574.00" r="1.85" fill="none" stroke="#6f78a4" stroke-width="0.95"/>
<circle cx="400.43" cy="664.10" r="1.85" fill="none" stroke="#6f78a4" stroke-width="0.95"/>
<circle cx="401.73" cy="672.60" r="1.85" fill="none" stroke="#6f78a4" stroke-width="0.95"/>
<circle cx="400.93" cy="678.20" r="1.85" fill="none" stroke="#6f78a4" stroke-width="0.95"/>
<circle cx="401.23" cy="684.70" r="1.9" fill="#1f2f7a"/>
<circle cx="401.23" cy="691.80" r="1.9" fill="#1f2f7a"/>
<circle cx="401.23" cy="693.50" r="1.9" fill="#1f2f7a"/>
<circle cx="402.43" cy="698.30" r="1.9" fill="#1f2f7a"/>
<circle cx="401.23" cy="617.6" r="2.6" fill="#fff" stroke="#2a48a0" stroke-width="0.8"/>
<circle cx="401.23" cy="617.6" r="0.95" fill="#121c55"/>
<line x1="412.00" y1="607.6" x2="412.00" y2="627.5" stroke="#a3b0d2" stroke-width="1"/>
<rect x="409.50" y="614" width="5" height="8.2" fill="#2a48a0"/>
<circle cx="414.00" cy="701.40" r="1.9" fill="#1f2f7a"/>
<circle cx="410.80" cy="711.10" r="1.9" fill="#1f2f7a"/>
<circle cx="414.20" cy="711.10" r="1.9" fill="#1f2f7a"/>
<circle cx="414.50" cy="716.40" r="1.9" fill="#1f2f7a"/>
<circle cx="409.20" cy="720.10" r="1.9" fill="#1f2f7a"/>
<circle cx="412.80" cy="720.50" r="1.9" fill="#1f2f7a"/>
<circle cx="410.80" cy="723.50" r="1.9" fill="#1f2f7a"/>
<circle cx="411.50" cy="734.00" r="1.9" fill="#1f2f7a"/>
<rect x="411.40" y="628.9" width="1.2" height="2" fill="#c04a6a" fill-opacity="0.75"/>
<circle cx="412.00" cy="616.6" r="2.6" fill="#fff" stroke="#2a48a0" stroke-width="0.8"/>
<circle cx="412.00" cy="616.6" r="0.95" fill="#121c55"/>
<line x1="422.77" y1="634.9" x2="422.77" y2="682.2" stroke="#a3b0d2" stroke-width="1"/>
<rect x="420.27" y="649.5" width="5" height="15.5" fill="#2a48a0"/>
<circle cx="422.07" cy="610.90" r="1.85" fill="none" stroke="#6f78a4" stroke-width="0.95"/>
<circle cx="420.57" cy="620.20" r="1.85" fill="none" stroke="#6f78a4" stroke-width="0.95"/>
<circle cx="421.97" cy="626.20" r="1.85" fill="none" stroke="#6f78a4" stroke-width="0.95"/>
<circle cx="422.77" cy="656.8" r="2.6" fill="#fff" stroke="#2a48a0" stroke-width="0.8"/>
<circle cx="422.77" cy="656.8" r="0.95" fill="#121c55"/>
<line x1="433.54" y1="604.9" x2="433.54" y2="667.5" stroke="#a3b0d2" stroke-width="1"/>
<rect x="431.04" y="628.9" width="5" height="18.6" fill="#2a48a0"/>
<circle cx="432.14" cy="595.60" r="1.85" fill="none" stroke="#6f78a4" stroke-width="0.95"/>
<circle cx="433.54" cy="633.9" r="2.6" fill="#fff" stroke="#2a48a0" stroke-width="0.8"/>
<circle cx="433.54" cy="633.9" r="0.95" fill="#121c55"/>
<line x1="444.31" y1="624" x2="444.31" y2="679.3" stroke="#a3b0d2" stroke-width="1"/>
<rect x="441.81" y="647.1" width="5" height="17.5" fill="#2a48a0"/>
<circle cx="444.31" cy="614.70" r="1.85" fill="none" stroke="#6f78a4" stroke-width="0.95"/>
<circle cx="444.31" cy="619.70" r="1.85" fill="none" stroke="#6f78a4" stroke-width="0.95"/>
<circle cx="445.01" cy="691.80" r="1.85" fill="none" stroke="#6f78a4" stroke-width="0.95"/>
<circle cx="441.31" cy="699.00" r="1.85" fill="none" stroke="#6f78a4" stroke-width="0.95"/>
<circle cx="444.31" cy="701.00" r="1.85" fill="none" stroke="#6f78a4" stroke-width="0.95"/>
<circle cx="442.31" cy="703.00" r="1.85" fill="none" stroke="#6f78a4" stroke-width="0.95"/>
<circle cx="445.81" cy="705.00" r="1.85" fill="none" stroke="#6f78a4" stroke-width="0.95"/>
<circle cx="444.31" cy="658.8" r="2.6" fill="#fff" stroke="#2a48a0" stroke-width="0.8"/>
<circle cx="444.31" cy="658.8" r="0.95" fill="#121c55"/>
<line x1="455.08" y1="638.9" x2="455.08" y2="678" stroke="#a3b0d2" stroke-width="1"/>
<rect x="452.58" y="648.8" width="5" height="13.7" fill="#2a48a0"/>
<circle cx="455.08" cy="625.90" r="1.85" fill="none" stroke="#6f78a4" stroke-width="0.95"/>
<circle cx="455.08" cy="656.3" r="2.6" fill="#fff" stroke="#2a48a0" stroke-width="0.8"/>
<circle cx="455.08" cy="656.3" r="0.95" fill="#121c55"/>
<line x1="465.85" y1="606.5" x2="465.85" y2="640.6" stroke="#a3b0d2" stroke-width="1"/>
<rect x="463.35" y="616.5" width="5" height="13.2" fill="#2a48a0"/>
<circle cx="465.85" cy="592.10" r="1.85" fill="none" stroke="#6f78a4" stroke-width="0.95"/>
<circle cx="464.45" cy="648.20" r="1.85" fill="none" stroke="#6f78a4" stroke-width="0.95"/>
<circle cx="464.05" cy="664.00" r="1.85" fill="none" stroke="#6f78a4" stroke-width="0.95"/>
<circle cx="466.55" cy="664.00" r="1.85" fill="none" stroke="#6f78a4" stroke-width="0.95"/>
<circle cx="463.45" cy="672.70" r="1.9" fill="#1f2f7a"/>
<circle cx="466.55" cy="674.20" r="1.9" fill="#1f2f7a"/>
<circle cx="467.85" cy="671.00" r="1.9" fill="#1f2f7a"/>
<circle cx="465.85" cy="622.2" r="2.6" fill="#fff" stroke="#2a48a0" stroke-width="0.8"/>
<circle cx="465.85" cy="622.2" r="0.95" fill="#121c55"/>
<line x1="476.62" y1="584.9" x2="476.62" y2="629.7" stroke="#a3b0d2" stroke-width="1"/>
<rect x="474.12" y="609" width="5" height="16.7" fill="#2a48a0"/>
<circle cx="476.62" cy="570.40" r="1.85" fill="none" stroke="#6f78a4" stroke-width="0.95"/>
<circle cx="473.52" cy="664.00" r="1.85" fill="none" stroke="#6f78a4" stroke-width="0.95"/>
<circle cx="476.32" cy="664.00" r="1.85" fill="none" stroke="#6f78a4" stroke-width="0.95"/>
<circle cx="476.32" cy="683.90" r="1.9" fill="#1f2f7a"/>
<circle cx="473.52" cy="690.90" r="1.9" fill="#1f2f7a"/>
<circle cx="473.72" cy="696.30" r="1.9" fill="#1f2f7a"/>
<circle cx="477.92" cy="727.30" r="1.9" fill="#1f2f7a"/>
<circle cx="476.62" cy="620.2" r="2.6" fill="#fff" stroke="#2a48a0" stroke-width="0.8"/>
<circle cx="476.62" cy="620.2" r="0.95" fill="#121c55"/>
<line x1="487.39" y1="596.6" x2="487.39" y2="702" stroke="#a3b0d2" stroke-width="1"/>
<rect x="484.89" y="612.2" width="5" height="48.3" fill="#2a48a0"/>
<circle cx="487.39" cy="622.2" r="2.6" fill="#fff" stroke="#2a48a0" stroke-width="0.8"/>
<circle cx="487.39" cy="622.2" r="0.95" fill="#121c55"/>
<line x1="498.16" y1="624.7" x2="498.16" y2="652.7" stroke="#a3b0d2" stroke-width="1"/>
<rect x="495.66" y="637.1" width="5" height="9.2" fill="#2a48a0"/>
<circle cx="495.96" cy="687.10" r="1.9" fill="#1f2f7a"/>
<circle cx="497.46" cy="688.70" r="1.9" fill="#1f2f7a"/>
<circle cx="496.26" cy="691.60" r="1.9" fill="#1f2f7a"/>
<circle cx="498.76" cy="692.90" r="1.9" fill="#1f2f7a"/>
<circle cx="499.76" cy="712.20" r="1.9" fill="#1f2f7a"/>
<circle cx="498.16" cy="641.9" r="2.6" fill="#fff" stroke="#2a48a0" stroke-width="0.8"/>
<circle cx="498.16" cy="641.9" r="0.95" fill="#121c55"/>
<line x1="508.93" y1="643.8" x2="508.93" y2="676.1" stroke="#a3b0d2" stroke-width="1"/>
<rect x="506.43" y="655.2" width="5" height="8.8" fill="#2a48a0"/>
<circle cx="508.93" cy="661.8" r="2.6" fill="#fff" stroke="#2a48a0" stroke-width="0.8"/>
<circle cx="508.93" cy="661.8" r="0.95" fill="#121c55"/>
<line x1="519.70" y1="663.8" x2="519.70" y2="691.2" stroke="#a3b0d2" stroke-width="1"/>
<rect x="517.20" y="663.8" width="5" height="13.2" fill="#2a48a0"/>
<circle cx="517.90" cy="698.80" r="1.85" fill="none" stroke="#6f78a4" stroke-width="0.95"/>
<circle cx="516.50" cy="706.40" r="1.85" fill="none" stroke="#6f78a4" stroke-width="0.95"/>
<circle cx="519.70" cy="666.3" r="2.6" fill="#fff" stroke="#2a48a0" stroke-width="0.8"/>
<circle cx="519.70" cy="666.3" r="0.95" fill="#121c55"/>
<line x1="530.47" y1="642.6" x2="530.47" y2="685" stroke="#a3b0d2" stroke-width="1"/>
<rect x="527.97" y="655.1" width="5" height="13.2" fill="#2a48a0"/>
<circle cx="527.27" cy="690.80" r="1.85" fill="none" stroke="#6f78a4" stroke-width="0.95"/>
<circle cx="530.47" cy="657.6" r="2.6" fill="#fff" stroke="#2a48a0" stroke-width="0.8"/>
<circle cx="530.47" cy="657.6" r="0.95" fill="#121c55"/>
</svg></body></html>
